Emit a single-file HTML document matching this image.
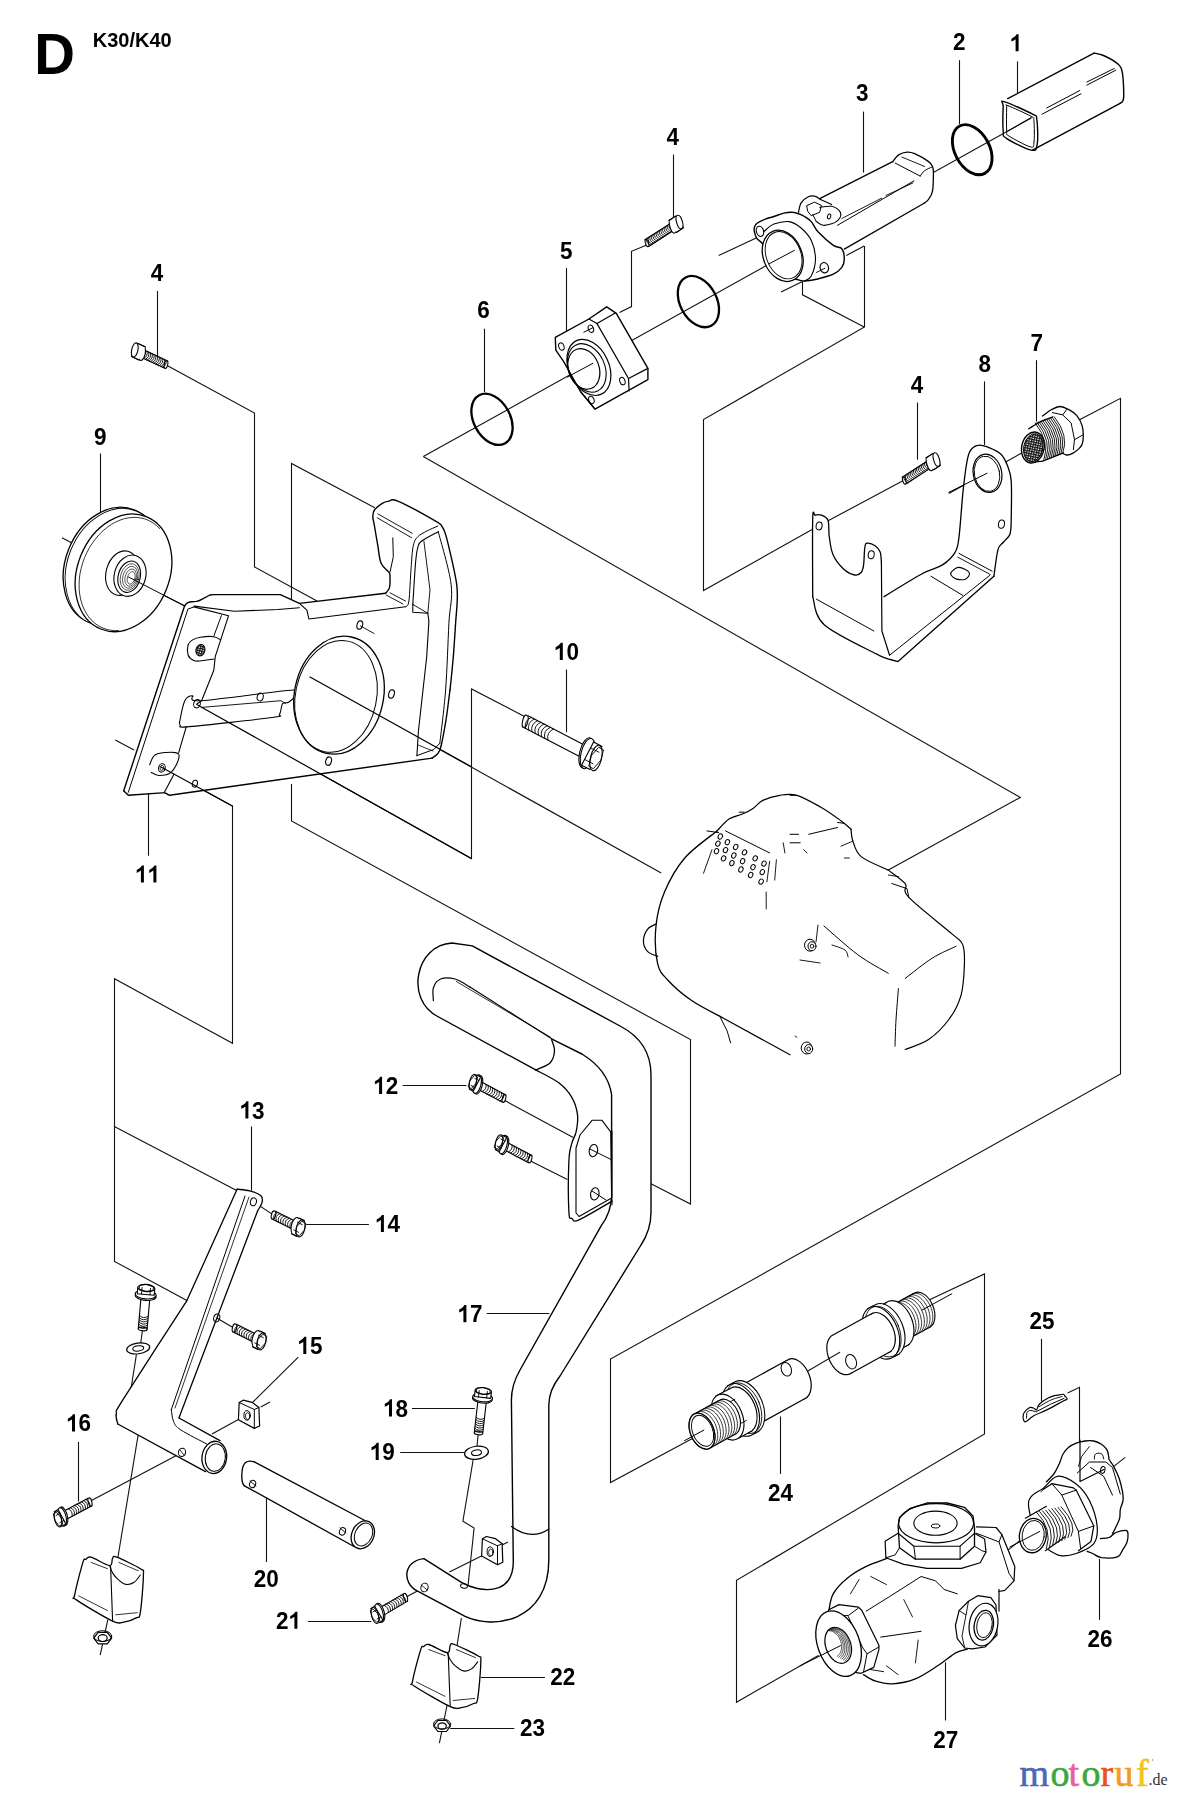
<!DOCTYPE html>
<html><head><meta charset="utf-8"><style>
html,body{margin:0;padding:0;background:#fff;}
body{width:1179px;height:1800px;overflow:hidden;font-family:"Liberation Sans",sans-serif;}
svg{display:block;}
</style></head><body>
<svg width="1179" height="1800" viewBox="0 0 1179 1800">
<defs><pattern id="mesh" width="2.4" height="2.4" patternUnits="userSpaceOnUse"><rect width="2.4" height="2.4" fill="#fff"/><path d="M0,0.6 H2.4 M0.6,0 V2.4" stroke="#111" stroke-width="1.1"/></pattern></defs>
<rect width="1179" height="1800" fill="#fff"/>
<g stroke="#111" fill="none" stroke-width="1">
<polyline points="157.5,291 157.5,357" stroke-width="1.1"/>
<polyline points="168,366 254.5,413 254.5,567 317,601" stroke-width="1.1"/>
<polyline points="100.5,453.5 100.5,516" stroke-width="1.1"/>
<polyline points="62,537.8 77.6,546" stroke-width="1.1"/>
<polyline points="128,577 184.8,606" stroke-width="1.1"/>
<polyline points="291.5,601 291.5,463.5 374.8,507.7" stroke-width="1.1"/>
<polyline points="423.3,456.6 1020.3,797.4 888.3,870.1" stroke-width="1.1"/>
<polyline points="864.5,246 864.5,327 703.5,419.5 703.5,590.5 819.7,525.3" stroke-width="1.1"/>
<polyline points="802.5,282 802.5,294.8 864.2,327" stroke-width="1.1"/>
<polyline points="846.3,255.5 864.2,246" stroke-width="1.1"/>
<polyline points="718.7,255.4 759.4,236.4" stroke-width="1.1"/>
<polyline points="781.1,292 802.9,281.2" stroke-width="1.1"/>
<polyline points="648,244.6 631.5,251.3 631.5,306.6 619.5,312.4" stroke-width="1.1"/>
<polyline points="1080,419.5 1120.5,398.3 1120.5,1073.9 610.5,1359.1 610.5,1482.6 694.3,1437.4" stroke-width="1.1"/>
<polyline points="929,1300 984.5,1273.9 984.5,1433.9 736.5,1580.3 736.5,1702.2 821.9,1653.4" stroke-width="1.1"/>
<polyline points="948.8,493.5 1025,451.2" stroke-width="1.1"/>
<polyline points="694.3,1437.4 929,1300" stroke-width="1.1"/>
<polyline points="1067.6,1393 1079.5,1387.3 1079.5,1481 1103.2,1469.2" stroke-width="1.1"/>
<polyline points="1003,1554 1125.2,1457.4" stroke-width="1.1"/>
<polyline points="161,767 232.5,806 232.5,1043.3 114.5,978.8 114.5,1261.4 186.9,1300.6" stroke-width="1.1"/>
<polyline points="114.3,1126.4 237.1,1190.8" stroke-width="1.1"/>
<polyline points="148.5,792.2 148.5,855.7" stroke-width="1.1"/>
<polyline points="115.3,740 134,750" stroke-width="1.1"/>
<polyline points="291.5,784 291.5,821 690.5,1039.6 690.5,1204 651,1183.8" stroke-width="1.1"/>
<polyline points="196.7,704.5 471.5,858.5 471.5,688.9 525.5,717" stroke-width="1.1"/>
<polyline points="310,677 661.2,873" stroke-width="1.1"/>
<polyline points="402.7,1085.5 466.5,1085.5" stroke-width="1.1"/>
<polyline points="504,1100.1 573.2,1137.6" stroke-width="1.1"/>
<polyline points="530,1160.7 567.4,1179.4" stroke-width="1.1"/>
<polyline points="251.5,1126.4 251.5,1190.8" stroke-width="1.1"/>
<polyline points="306.2,1224.5 368.9,1224.5" stroke-width="1.1"/>
<polyline points="253.4,1201.8 274.8,1215.9" stroke-width="1.1"/>
<polyline points="216.7,1317.9 235.6,1328.9" stroke-width="1.1"/>
<polyline points="298.3,1357.1 253,1402" stroke-width="1.1"/>
<polyline points="212,1434 243.4,1416.7" stroke-width="1.1"/>
<polyline points="260.7,1407 270,1402" stroke-width="1.1"/>
<polyline points="89.6,1501.5 181.6,1452.8" stroke-width="1.1"/>
<polyline points="78.5,1441.9 78.5,1501.5" stroke-width="1.1"/>
<polyline points="136.4,1354.7 130,1395" stroke-width="1.1"/>
<polyline points="138.2,1434.7 115.4,1572.5" stroke-width="1.1"/>
<polyline points="107.8,1619.6 100.2,1655.2" stroke-width="1.1"/>
<polyline points="266.5,1497.5 266.5,1562" stroke-width="1.1"/>
<polyline points="486.7,1313.5 549.4,1313.5" stroke-width="1.1"/>
<polyline points="412,1408.5 474.8,1408.5" stroke-width="1.1"/>
<polyline points="400.2,1452.5 464.6,1452.5" stroke-width="1.1"/>
<polyline points="478.2,1434 476.8,1448" stroke-width="1.1"/>
<polyline points="142.6,1329 140.6,1344" stroke-width="1.1"/>
<polyline points="473.1,1460.2 462.9,1521.2 474.1,1528 468,1585.7" stroke-width="1.1"/>
<polyline points="461.4,1618 454.3,1662.8" stroke-width="1.1"/>
<polyline points="447.2,1704.5 439.4,1743.2" stroke-width="1.1"/>
<polyline points="449.4,1572.1 490,1551.8" stroke-width="1.1"/>
<polyline points="502,1545 508,1542" stroke-width="1.1"/>
<polyline points="405.3,1597.6 423.9,1587.4" stroke-width="1.1"/>
<polyline points="307.9,1621.5 371.3,1621.5" stroke-width="1.1"/>
<polyline points="480.8,1677.5 544.9,1677.5" stroke-width="1.1"/>
<polyline points="450.2,1728.5 514.3,1728.5" stroke-width="1.1"/>
<polyline points="780.5,1416.5 780.5,1473.9" stroke-width="1.1"/>
<polyline points="1041.5,1338.9 1041.5,1401.5" stroke-width="1.1"/>
<polyline points="1099.5,1558.9 1099.5,1619.8" stroke-width="1.1"/>
<polyline points="945.5,1661.6 945.5,1720.5" stroke-width="1.1"/>
<polyline points="484.5,328.7 484.5,392" stroke-width="1.1"/>
<polyline points="566.5,268 566.5,331" stroke-width="1.1"/>
<polyline points="673.5,154.6 673.5,219" stroke-width="1.1"/>
<polyline points="863.5,111.6 863.5,172.6" stroke-width="1.1"/>
<polyline points="959.5,60.2 959.5,124.1" stroke-width="1.1"/>
<polyline points="1017.5,61.4 1017.5,93.4" stroke-width="1.1"/>
<polyline points="917.5,402.5 917.5,459.7" stroke-width="1.1"/>
<polyline points="984.5,381.4 984.5,444.9" stroke-width="1.1"/>
<polyline points="1036.5,360.2 1036.5,421.6" stroke-width="1.1"/>
<polyline points="566.5,669.5 566.5,732.3" stroke-width="1.1"/>
<polyline points="423.3,456.6 1031.3,117.9" stroke-width="1.1"/>
<polyline points="819.7,525.3 904.3,480" stroke-width="1.1"/>
</g>
<g stroke="#000" fill="none" stroke-linejoin="round" stroke-linecap="round">
<ellipse cx="111.5" cy="566" rx="46" ry="60.6" transform="rotate(22 111.5 566)" stroke-width="1.3" fill="#fff"/>
<ellipse cx="113.5" cy="567.2" rx="46" ry="60.6" transform="rotate(22 113.5 567.2)" stroke-width="0.9" fill="#fff"/>
<ellipse cx="123.5" cy="572.8" rx="46" ry="60.6" transform="rotate(22 123.5 572.8)" stroke-width="1.3" fill="#fff"/>
<polyline points="118.5,630.6 114.2,630.6 109.9,630.1 105.8,629.1 101.9,627.6 98.2,625.6 94.7,623.2 91.5,620.2 88.7,616.9 86.1,613.1 84,609 82.2,604.6 80.8,599.9 79.8,594.9 79.2,589.8 79.1,584.5 79.3,579.1 80,573.7 81.2,568.2 82.7,562.9 84.6,557.6 86.9,552.5 89.5,547.5 92.5,542.9 95.8,538.5 99.3,534.4 103.1,530.7 107.1,527.4 111.2,524.5 115.5,522.1 119.9,520.2 124.3,518.7 128.7,517.8 133.1,517.4 137.4,517.5 141.6,518.1 145.7,519.2 149.6,520.9 153.2,523 156.6,525.6 159.7,528.6" stroke-width="0.8"/>
<ellipse cx="122.1" cy="573.1" rx="16" ry="22.6" transform="rotate(15 122.1 573.1)" stroke-width="1.1" fill="#fff"/>
<ellipse cx="130" cy="575.7" rx="15.7" ry="21" transform="rotate(15 130 575.7)" stroke-width="1.1" fill="#fff"/>
<ellipse cx="129.2" cy="576.7" rx="11" ry="16" transform="rotate(15 129.2 576.7)" stroke-width="1.1" fill="#fff"/>
<ellipse cx="129.7" cy="577" rx="9.2" ry="13.6" transform="rotate(15 129.7 577)" stroke-width="0.6" fill="none"/>
<ellipse cx="130.2" cy="577.3" rx="7.4" ry="11.2" transform="rotate(15 130.2 577.3)" stroke-width="0.6" fill="none"/>
<ellipse cx="130.7" cy="577.6" rx="5.6" ry="8.8" transform="rotate(15 130.7 577.6)" stroke-width="0.6" fill="none"/>
<ellipse cx="131.2" cy="577.9" rx="3.8" ry="6.4" transform="rotate(15 131.2 577.9)" stroke-width="0.6" fill="none"/>
<line x1="128.5" y1="577" x2="184.8" y2="606" stroke-width="1"/>
<polygon points="123.7,790.8 184.2,607 190,602 201.7,599.3 213.2,594.6 280.4,594.6 299.4,603.4 385.6,593.3 389.4,587.8 390,576.7 388.9,572.2 381.1,563.3 377.8,545.6 374.4,525.6 372.8,516.7 374.4,510 382.2,503.3 388.9,501.1 397.8,501.1 435.6,521.1 442.2,526.7 445.6,534.4 451.1,556.7 456.7,584.4 457.2,601.1 455.6,623.3 453.3,656.7 450,690 441.3,745 438.2,753.2 432.1,758.1 169.5,795.3 165,792.9 161.9,792.9 128.3,795.3" stroke-width="0" fill="#fff"/>
<path d="M123.7,790.8 L184.2,607 Q186,602.5 190,602 L196.3,601.4 Q199,601 201.7,599.3 L209.9,595 Q211,594.6 213.2,594.6 L280.4,594.6 L299.4,603.4 L385.6,593.3" stroke-width="1.4" fill="none"/>
<path d="M385.6,593.3 C386.2,592.4 388.7,590.6 389.4,587.8 C390.1,585 390.1,579.3 390,576.7 C389.9,574.1 390.4,574.4 388.9,572.2 C387.4,570 383,567.7 381.1,563.3 C379.2,558.9 378.9,551.9 377.8,545.6 C376.7,539.3 375.2,530.4 374.4,525.6 C373.6,520.8 372.8,519.3 372.8,516.7 C372.8,514.1 372.8,512.2 374.4,510 C376,507.8 379.8,504.8 382.2,503.3 C384.6,501.8 386.3,501.5 388.9,501.1 C391.5,500.7 390,497.8 397.8,501.1 C405.6,504.4 428.2,516.8 435.6,521.1 C443,525.4 440.5,524.5 442.2,526.7 C443.9,528.9 444.1,529.4 445.6,534.4 C447.1,539.4 449.2,548.4 451.1,556.7 C453,565 455.7,577 456.7,584.4 C457.7,591.8 457.4,594.6 457.2,601.1 C457,607.6 456.2,614 455.6,623.3 C455,632.6 454.2,645.6 453.3,656.7 C452.4,667.8 450.6,684.5 450,690" stroke-width="1.4" fill="none"/>
<path d="M450,690 C449.3,695 447.5,710.8 446,720 C444.5,729.2 442.6,739.4 441.3,745 C440,750.5 439.8,751 438.2,753.2 C436.7,755.4 433.2,757.3 432.1,758.1" stroke-width="1.4" fill="none"/>
<polyline points="432.1,758.1 169.5,795.3 165,792.9 161.9,792.9 128.3,795.3 123.7,790.8" stroke-width="1.4"/>
<polyline points="128.3,792.3 187.9,609.1 194,606.9" stroke-width="1"/>
<polyline points="194,606.9 228.5,615.8 215.3,656.4 213.8,670.2 201.6,700.7 197,703.7" stroke-width="1.1"/>
<polyline points="186.3,726.6 178.7,752.6" stroke-width="1.1"/>
<polyline points="174.1,774 164.4,792.3" stroke-width="1.1"/>
<polyline points="194.2,606.1 234.3,611.3 277.7,609.5 299.4,607.8" stroke-width="1.1"/>
<polyline points="299.4,603.4 306.9,610.2 308.9,619 405.6,606.7" stroke-width="1.1"/>
<polyline points="221.4,615.6 213.9,636" stroke-width="1"/>
<polyline points="392.8,537.8 393.3,556.7 390,572.2" stroke-width="1"/>
<polyline points="377.8,513.9 412.2,533.3" stroke-width="0.9"/>
<polyline points="377.2,517.8 411.7,537.8" stroke-width="0.9"/>
<path d="M437.8,526.1 C435.9,526.9 430,529.3 426.7,531.1 C423.4,532.9 420,534.3 417.8,536.7 C415.6,539.1 414.4,540.4 413.3,545.6 C412.2,550.8 411.8,558.5 411.1,567.8 C410.4,577 409.8,594.6 408.9,601.1 C408,607.6 406.2,605.8 405.6,606.7" stroke-width="1" fill="none"/>
<path d="M438.3,531.7 C435.8,533.1 426.6,537.7 423.3,540 C420,542.3 419.6,541.9 418.3,545.6 C417,549.3 416.5,552.4 415.6,562.2 C414.7,572 413.3,597.4 412.8,604.4" stroke-width="1.1" fill="none"/>
<polyline points="412.8,604.4 412.8,612.2 427.8,613.3 428.9,621.1 426.7,656.7 418.4,731.2 416.9,755.6" stroke-width="1.1"/>
<path d="M438.3,531.7 C440.4,540.5 449.3,569.1 451.1,584.4 C452.9,599.7 449.8,605.7 448.9,623.3 C448,640.9 447.1,670 445.6,690 C444.1,710 440.8,734.5 439.8,743.4" stroke-width="1" fill="none"/>
<polyline points="439.8,743.4 433.7,749.5 416.9,755.6" stroke-width="1"/>
<polyline points="423.9,541.1 430,590 427.8,613.3" stroke-width="0.9"/>
<polyline points="412.8,604.4 427.8,613.3" stroke-width="0.9"/>
<polyline points="386.1,595 402.8,603.9" stroke-width="0.9"/>
<polyline points="390,592.8 405.6,601.1" stroke-width="0.9"/>
<polyline points="418,745 433,751" stroke-width="0.8"/>
<path d="M220.7,640.1 C219.6,639.5 217.3,637.2 213.9,636.7 C210.5,636.2 204,636.7 200.4,637.3 C196.8,637.9 194.2,638.8 192.2,640.1 C190.1,641.4 188.8,642.5 188.1,645 C187.4,647.5 187.2,652.4 188.1,655 C189,657.6 191.6,659.4 193.6,660.4 C195.6,661.4 196.6,661.2 200,661 C203.4,660.8 211.6,659.3 213.9,659" stroke-width="1.1" fill="none"/>
<ellipse cx="200.4" cy="650.2" rx="4.5" ry="5.8" transform="rotate(15 200.4 650.2)" stroke-width="1" fill="url(#mesh)"/>
<path d="M180.2,719 C181,714.9 182.8,704.6 184.8,700.7 C186.8,696.8 189.6,695.8 192.4,695.8 C195.2,695.8 184.8,701.7 201.6,700.7 C218.4,699.7 277.6,690.9 293.2,690 C308.8,689.1 295.8,693.2 295,695.2 C294.3,697.2 290.7,700.8 288.6,702.2 C286.5,703.6 284,701.7 282.5,703.7 C281,705.8 281.2,712.1 279.5,714.4 C277.7,716.7 286.8,715.4 271.8,717.5 C256.8,719.5 204.7,725.4 189.4,726.6 C174.1,727.9 181.8,726.4 180.2,725.1 C178.7,723.8 179.5,723.1 180.2,719Z" stroke-width="1.1" fill="none"/>
<polyline points="201.6,707.4 281,700.7 285.6,703.7" stroke-width="0.9"/>
<ellipse cx="197" cy="703.7" rx="3.3" ry="4.3" transform="rotate(15 197 703.7)" stroke-width="1" fill="none"/>
<ellipse cx="260.2" cy="697" rx="3" ry="4" transform="rotate(15 260.2 697)" stroke-width="1" fill="none"/>
<path d="M149.7,764.8 C150.7,763.1 151.5,756.5 155.8,754.4 C160.1,752.4 171.8,751.9 175.6,752.6 C179.5,753.3 179.5,755.4 178.7,758.7 C177.9,762 174.4,769.6 171.1,772.4 C167.8,775.2 162.2,775.5 158.9,775.5 C155.5,775.5 152.5,773 151.2,772.4" stroke-width="1.1" fill="none"/>
<ellipse cx="161.9" cy="767.9" rx="3.3" ry="4.3" transform="rotate(15 161.9 767.9)" stroke-width="1" fill="none"/>
<ellipse cx="161.9" cy="767.9" rx="1.8" ry="2.6" transform="rotate(15 161.9 767.9)" stroke-width="0.8" fill="none"/>
<ellipse cx="194.9" cy="783.7" rx="2.5" ry="3.5" transform="rotate(15 194.9 783.7)" stroke-width="1" fill="none"/>
<ellipse cx="339" cy="695.2" rx="44.5" ry="59.5" transform="rotate(12 339 695.2)" stroke-width="1.3" fill="#fff"/>
<ellipse cx="336" cy="696.4" rx="40.5" ry="56.5" transform="rotate(12 336 696.4)" stroke-width="1" fill="none"/>
<ellipse cx="359.8" cy="625" rx="2.8" ry="4.3" transform="rotate(15 359.8 625)" stroke-width="1.1" fill="none"/>
<ellipse cx="391.5" cy="694" rx="2.8" ry="4.3" transform="rotate(15 391.5 694)" stroke-width="1.1" fill="none"/>
<ellipse cx="328.6" cy="761.1" rx="2.8" ry="4.3" transform="rotate(15 328.6 761.1)" stroke-width="1.1" fill="none"/>
<polyline points="360.4,625.9 374.1,633.5" stroke-width="0.9"/>
<polyline points="310,677 470,766" stroke-width="1.2"/>
<polyline points="196.7,704.5 471.2,858.5" stroke-width="1.2"/>
<polyline points="161,767 232.3,806" stroke-width="1.2"/>
<ellipse cx="492" cy="419.3" rx="18.3" ry="27.3" transform="rotate(-28 492 419.3)" stroke-width="2.3" fill="none"/>
<polygon points="555.3,337.3 588.9,319 606.7,306.8 616.3,313.4 647.9,368.4 647.9,379.6 595,409.1 580.7,391.8 563.4,361.2 555.8,350.1" stroke-width="1.4" fill="#fff"/>
<polyline points="588.9,319 597,323.6 628.5,378.5 629.1,390.8" stroke-width="1.2"/>
<polyline points="597,323.6 615.3,312.9" stroke-width="1.2"/>
<polyline points="628.5,378.5 647.9,368.4" stroke-width="1.2"/>
<polyline points="580.7,391.8 595,409.1" stroke-width="1.2"/>
<ellipse cx="588.9" cy="367.4" rx="20" ry="29.5" transform="rotate(-25 588.9 367.4)" stroke-width="1.2" fill="none"/>
<ellipse cx="586.8" cy="367.9" rx="17.8" ry="25.4" transform="rotate(-25 586.8 367.9)" stroke-width="1.1" fill="none"/>
<ellipse cx="583.8" cy="368.9" rx="15.3" ry="20.9" transform="rotate(-20 583.8 368.9)" stroke-width="1.2" fill="none"/>
<ellipse cx="561.4" cy="346.5" rx="2.6" ry="3.8" transform="rotate(-20 561.4 346.5)" stroke-width="1" fill="none"/>
<ellipse cx="590.9" cy="328.7" rx="2.6" ry="3.8" transform="rotate(-20 590.9 328.7)" stroke-width="1" fill="none"/>
<ellipse cx="591.4" cy="399.9" rx="2.6" ry="3.8" transform="rotate(-20 591.4 399.9)" stroke-width="1" fill="none"/>
<ellipse cx="622.4" cy="381.1" rx="2.6" ry="3.8" transform="rotate(-20 622.4 381.1)" stroke-width="1" fill="none"/>
<polyline points="567.5,377 592.9,363.3" stroke-width="1"/>
<polyline points="583.8,332.2 592.9,327.7" stroke-width="1"/>
<ellipse cx="698.4" cy="301.6" rx="18.3" ry="27.3" transform="rotate(-28 698.4 301.6)" stroke-width="2.3" fill="none"/>
<polygon points="819.7,198.7 892.7,161.4 898.6,154.6 907.1,152.1 914.7,153.7 928.3,161.4 932.5,166.5 933.4,172.4 932.5,191.1 928.3,199.6 924.1,202.9 844.3,248.7 816.3,248.7 804.5,218.2" stroke-width="0" fill="#fff"/>
<polyline points="819.7,198.7 892.7,161.7" stroke-width="1.3"/>
<path d="M892.7,161.7 C893.7,160.6 896.2,156.5 898.6,154.9 C901,153.4 904.4,152.4 907.1,152.2 C909.8,152 911.2,152.2 914.7,153.7 C918.3,155.3 925.3,159.3 928.3,161.4 C931.3,163.5 931.7,164.6 932.5,166.5 C933.4,168.3 933.4,168.3 933.4,172.4 C933.4,176.5 933.4,186.5 932.5,191.1 C931.7,195.6 929.7,197.5 928.3,199.6 C926.9,201.6 924.8,202.7 924.1,203.3" stroke-width="1.3" fill="none"/>
<polyline points="924.1,203.3 844.3,249.1" stroke-width="1.3"/>
<polyline points="895.2,163.1 920.2,176.1" stroke-width="1"/>
<polyline points="902,157.1 924.6,166.5" stroke-width="0.9"/>
<path d="M920.2,176.1 C920.9,175.2 922.6,172.2 924.6,170.7 C926.5,169.2 930.8,167.6 932,167" stroke-width="1" fill="none"/>
<polyline points="837.5,225.3 913.9,180.9" stroke-width="1"/>
<polyline points="841.8,218.5 881.6,198.2" stroke-width="0.9"/>
<polyline points="885.9,195.5 913,182.9" stroke-width="0.9"/>
<polygon points="798.5,212.3 801.1,202.9 807.9,197 814.6,196.2 820.6,199.6 825.7,201.2 831.6,204.6 838.4,208 840.9,214 838.4,219.9 832.5,223.3 823.1,225 816.3,221.6" stroke-width="0" fill="#fff"/>
<path d="M798.5,212.3 C798.9,210.7 799.5,205.5 801.1,202.9 C802.6,200.4 805.6,198.1 807.9,197 C810.1,195.9 812.5,195.7 814.6,196.2 C816.8,196.6 819.6,199 820.6,199.6" stroke-width="1.2" fill="none"/>
<polyline points="820.6,199.6 831.6,204.6" stroke-width="1.1"/>
<path d="M819.7,207.2 C821.7,207 828.5,205.9 831.6,206.3 C834.7,206.8 836.8,208.3 838.4,209.7 C839.9,211.1 840.9,213.1 840.9,214.8 C840.9,216.5 839.8,218.4 838.4,219.9 C837,221.4 835,222.7 832.5,223.6 C829.9,224.5 825.8,225.7 823.1,225.3 C820.4,225 817.5,222.2 816.3,221.6" stroke-width="1.1" fill="none"/>
<polygon points="807,205.5 814.6,202.1 821.4,205.5 819.7,212.3 811.2,215.7 807.9,211.4" stroke-width="1" fill="none"/>
<polyline points="812.9,214.8 816.3,221.6" stroke-width="1"/>
<ellipse cx="829.1" cy="216.5" rx="1.6" ry="2.5" transform="rotate(15 829.1 216.5)" stroke-width="1" fill="none"/>
<path d="M754.4,227.5 C754.8,226.1 755.1,224.7 757,223.3 C758.8,221.9 762.6,220.2 765.4,219.1 C768.3,217.9 770.8,217.5 773.9,216.5 C777,215.5 781,213.8 784.1,213.1 C787.2,212.4 790,212.1 792.6,212.3 C795.1,212.4 797.4,213.3 799.4,214 C801.4,214.7 802.5,215.2 804.5,216.5 C806.4,217.8 809,219.1 811.2,221.6 C813.5,224.1 814.4,227.8 818,231.8 C821.7,235.7 829.3,242.5 833.3,245.4 C837.3,248.2 839.9,246.5 841.8,248.7 C843.6,251 844.3,255.8 844.3,258.9 C844.3,262 843.6,264.9 841.8,267.4 C839.9,269.9 837.5,272.2 833.3,274.2 C829.1,276.2 821.1,278.1 816.3,279.3 C811.5,280.4 807.9,281 804.5,281 C801.1,281 799.1,279.8 796,279.3 C792.9,278.7 789.8,279.8 785.8,277.6 C781.8,275.3 775.9,271.1 772.2,265.7 C768.6,260.3 766.3,249.9 763.7,245.4 C761.2,240.8 758.5,240.8 757,238.6 C755.4,236.3 754.8,233.6 754.4,231.8 C754,229.9 754,229 754.4,227.5Z" stroke-width="1.4" fill="#fff"/>
<path d="M763.7,231.8 C765.4,230.5 769.7,225.8 773.9,224.1 C778.2,222.5 784.7,221 789.2,221.6 C793.7,222.3 797.4,224.9 801.1,228 C804.7,231.2 808.8,235.1 811.2,240.3 C813.6,245.4 815.5,253 815.5,258.9 C815.5,264.9 813.1,272.2 811.2,275.9 C809.4,279.6 805.6,280.1 804.5,281" stroke-width="1.1" fill="none"/>
<ellipse cx="782.7" cy="255.9" rx="19.3" ry="26.5" transform="rotate(-22 782.7 255.9)" stroke-width="1.3" fill="#fff"/>
<ellipse cx="783.6" cy="255.2" rx="17.2" ry="24.5" transform="rotate(-22 783.6 255.2)" stroke-width="0.9" fill="none"/>
<ellipse cx="760" cy="231.3" rx="3.6" ry="5.2" transform="rotate(-15 760 231.3)" stroke-width="1.1" fill="none"/>
<ellipse cx="824.3" cy="267.7" rx="4.2" ry="5.2" transform="rotate(-15 824.3 267.7)" stroke-width="1.1" fill="none"/>
<polyline points="768.8,264 794.3,250.4" stroke-width="1"/>
<polyline points="816.3,272.5 824.8,268.3" stroke-width="0.9"/>
<ellipse cx="972.2" cy="149.7" rx="17.4" ry="26.8" transform="rotate(-28 972.2 149.7)" stroke-width="2.9" fill="none"/>
<polygon points="1007.7,98.1 1094,53.1 1103.5,55.5 1117.7,63.8 1122.4,72.1 1123.6,98.1 1120.1,102.8 1032.5,150.1 1037.2,145.4 1037.2,119.4 1032.5,113.5 1004.1,100.5" stroke-width="0" fill="#fff"/>
<path d="M1004.1,101.6 C1009,102.9 1027.1,111.2 1032.5,114.2 C1038,117.1 1036,114.4 1036.8,119.4 C1037.6,124.4 1038.2,139.1 1037.2,144.2 C1036.3,149.4 1036.5,151.1 1031.3,150.1 C1026.2,149.2 1011.2,141.5 1006.5,138.3 C1001.8,135.2 1003.7,136.5 1003.2,131.2 C1002.6,125.9 1003,111.3 1003.2,106.4 C1003.3,101.4 999.2,100.3 1004.1,101.6Z" stroke-width="1.4" fill="none"/>
<path d="M1007.9,105.7 C1011.9,107 1026.5,113.8 1030.9,116.3 C1035.2,118.8 1033.4,116.3 1033.9,120.8 C1034.4,125.3 1034.6,138.7 1033.9,143 C1033.3,147.4 1034.3,148 1030.1,146.8 C1026,145.7 1012.8,138.6 1008.8,135.9 C1004.9,133.3 1007.1,135.9 1006.7,131.2 C1006.4,126.6 1006.5,112.3 1006.7,108 C1006.9,103.8 1003.9,104.3 1007.9,105.7Z" stroke-width="1" fill="none"/>
<polyline points="1007.7,98.6 1094,53.1" stroke-width="1.4"/>
<path d="M1094,53.1 C1095.6,53.5 1099.6,53.7 1103.5,55.5 C1107.4,57.3 1114.5,60.8 1117.7,63.8 C1120.9,66.7 1121.4,67.5 1122.4,73.2 C1123.4,79 1124,93.1 1123.6,98.1 C1123.2,103.1 1120.7,102.4 1120.1,103.3" stroke-width="1.4" fill="none"/>
<polyline points="1032.5,150.1 1120.1,103.3" stroke-width="1.4"/>
<polyline points="1042,114.2 1081,93.8" stroke-width="1"/>
<polyline points="1046.7,108 1079.8,90.5" stroke-width="1"/>
<polyline points="1086.9,85.1 1115.8,70.2" stroke-width="1"/>
<polyline points="1086.9,82 1114.2,68.5" stroke-width="1"/>
<polyline points="1007.7,131.2 1031.3,117.5" stroke-width="1"/>
<polygon points="812.7,519.1 815.3,515.2 821.6,515.2 828,520.3 829.3,536.9 833.1,554.7 843.3,568.7 854.7,575 861.1,572.5 863.6,564.9 864.9,547 867.4,543.2 875.1,545.8 880.2,552.1 881.9,597.9 884,596.7 922.1,573.8 942.5,564.9 955.2,552.1 959,536.9 962.8,493.6 966.7,463.1 970.5,450.4 978.1,445.3 989.6,447.8 1001,454.2 1007.4,465.6 1011.2,480.9 1011.2,519.1 1009.9,534.3 1003.6,542 997.2,549.6 993.4,576.3 896.7,661.6 889.1,660.3 824.2,624.7 812.7,596.7" stroke-width="0" fill="#fff"/>
<path d="M812.7,596.7 C812.7,583.7 812.3,532.6 812.7,519.1 C813.1,505.5 813.8,515.9 815.3,515.2 C816.8,514.6 819.5,514.4 821.6,515.2 C823.7,516.1 826.7,516.7 828,520.3 C829.3,523.9 828.4,531.1 829.3,536.9 C830.1,542.6 830.7,549.4 833.1,554.7 C835.4,560 839.7,565.3 843.3,568.7 C846.9,572.1 851.7,574.4 854.7,575 C857.7,575.7 859.6,574.2 861.1,572.5 C862.6,570.8 863,569.1 863.6,564.9 C864.2,560.6 864.2,550.7 864.9,547 C865.5,543.4 865.7,543.4 867.4,543.2 C869.1,543 872.9,544.3 875.1,545.8 C877.2,547.3 879.1,549.4 880.2,552.1 C881.2,554.9 881.2,560.6 881.4,562.3" stroke-width="1.3" fill="none"/>
<polyline points="881.4,562.3 881.9,631 889.6,655.2" stroke-width="1.2"/>
<path d="M884,596.7 C890.3,592.8 912.4,579.1 922.1,573.8 C931.9,568.5 937,568.5 942.5,564.9 C948,561.3 952.5,556.8 955.2,552.1 C958,547.5 957.8,546.6 959,536.9 C960.3,527.1 961.6,505.9 962.8,493.6 C964.1,481.3 965.4,470.3 966.7,463.1 C967.9,455.9 968.6,453.3 970.5,450.4 C972.4,447.4 974.9,445.7 978.1,445.3 C981.3,444.8 985.8,446.3 989.6,447.8 C993.4,449.3 998,451.2 1001,454.2 C1004,457.1 1005.7,461.2 1007.4,465.6 C1009.1,470.1 1010.6,472 1011.2,480.9 C1011.8,489.8 1011.4,510.2 1011.2,519.1 C1011,528 1011.2,530.5 1009.9,534.3 C1008.7,538.1 1005.6,539.4 1003.6,542 C1001.6,544.5 999.6,543.9 998,549.6 C996.4,555.3 994.6,571.9 993.9,576.3" stroke-width="1.3" fill="none"/>
<polyline points="993.9,576.3 898,661.6 890.3,659.5" stroke-width="1.3"/>
<path d="M890.3,659.5 C888,658.6 887.4,659.7 876.3,653.9 C865.3,648.1 834.8,634.2 824.2,624.7 C813.6,615.1 814.6,601.3 812.7,596.7" stroke-width="1.3" fill="none"/>
<polyline points="816.5,599.2 873.8,631" stroke-width="1"/>
<polyline points="931,576.3 962.8,595.4" stroke-width="1"/>
<polyline points="959,553.4 992.1,571.2" stroke-width="1"/>
<polyline points="957.8,557.2 990.3,574.5" stroke-width="0.9"/>
<polyline points="889.6,655.2 989.6,575.5" stroke-width="1"/>
<ellipse cx="987.5" cy="473.3" rx="14.2" ry="19.3" transform="rotate(-12 987.5 473.3)" stroke-width="1.2" fill="#fff"/>
<ellipse cx="987" cy="473.8" rx="12.6" ry="17.8" transform="rotate(-12 987 473.8)" stroke-width="0.9" fill="none"/>
<ellipse cx="819.1" cy="525.9" rx="3" ry="4" transform="rotate(10 819.1 525.9)" stroke-width="1" fill="none"/>
<ellipse cx="871.2" cy="554.7" rx="3" ry="4" transform="rotate(10 871.2 554.7)" stroke-width="1" fill="none"/>
<ellipse cx="1001.5" cy="524.1" rx="3" ry="4.2" transform="rotate(10 1001.5 524.1)" stroke-width="1" fill="none"/>
<path d="M951.4,572 C952.7,570.6 956.1,567.3 959,567.4 C962,567.5 968.1,570.6 969.2,572.5 C970.4,574.4 968,577.8 965.9,578.9 C963.8,580 958.9,579.7 956.5,579.1 C954.1,578.6 952.2,576.7 951.4,575.5 C950.6,574.4 950.1,573.3 951.4,572Z" stroke-width="1.1" fill="none"/>
<polyline points="948.9,492.3 987,473.3" stroke-width="1"/>
<polygon points="1042.4,416 1051.6,409.5 1059.6,406.5 1068,409.2 1076.8,415.6 1082.1,425.6 1083.3,435.9 1082.1,444.3 1078.7,448.9 1072.6,453.4 1066.5,455 1061.9,452.7" stroke-width="0" fill="#fff"/>
<path d="M1042.4,416 C1044,414.9 1048.7,411.1 1051.6,409.5 C1054.5,408 1056.9,406.6 1059.6,406.5 C1062.4,406.4 1065.2,407.6 1068,409.2 C1070.9,410.7 1074.4,412.9 1076.8,415.6 C1079.1,418.4 1081.1,422.2 1082.1,425.6 C1083.2,428.9 1083.3,432.8 1083.3,435.9 C1083.3,439 1082.9,442.1 1082.1,444.3 C1081.4,446.4 1080.3,447.3 1078.7,448.9 C1077.1,450.4 1074.6,452.4 1072.6,453.4 C1070.6,454.5 1068.3,455.1 1066.5,455 C1064.7,454.8 1062.7,453.1 1061.9,452.7" stroke-width="1.3" fill="none"/>
<polyline points="1052.4,412.6 1062.7,414.9 1066.9,409.2" stroke-width="1"/>
<polyline points="1062.7,414.9 1071.1,422.9 1074.5,439.7 1082.5,435.1" stroke-width="1"/>
<polyline points="1074.5,439.7 1073.4,449.6" stroke-width="1"/>
<polygon points="1024.5,430.2 1032.9,425.2 1042.8,420.6 1052.7,417.2 1063.4,452.7 1055.8,455.7 1044.4,460.3 1035.2,461.8" stroke-width="0" fill="#fff"/>
<path d="M1028.7,428.9 C1029.4,428.4 1030.5,427.5 1032.9,426.1 C1035.3,424.7 1039.5,422.1 1042.8,420.6 C1046.1,419.1 1051.1,417.6 1052.7,416.9" stroke-width="1.3" fill="none"/>
<path d="M1035.2,462 C1036.7,461.7 1040.9,461.5 1044.4,460.5 C1047.8,459.4 1052.6,457.2 1055.8,455.9 C1059,454.6 1062.2,453.3 1063.4,452.8" stroke-width="1.3" fill="none"/>
<path d="M1035.2,422.9 Q1050.5,442.6 1043.6,460.7" stroke-width="0.9"/>
<path d="M1037.1,422.3 Q1052.4,441.9 1045.5,460" stroke-width="0.9"/>
<path d="M1039,421.7 Q1054.3,441.2 1047.4,459.2" stroke-width="0.9"/>
<path d="M1040.9,421.1 Q1056.2,440.6 1049.3,458.5" stroke-width="0.9"/>
<path d="M1042.8,420.5 Q1058.1,439.9 1051.2,457.8" stroke-width="0.9"/>
<path d="M1044.7,419.8 Q1060,439.2 1053.1,457.1" stroke-width="0.9"/>
<path d="M1046.6,419.2 Q1061.9,438.5 1055,456.3" stroke-width="0.9"/>
<path d="M1048.5,418.6 Q1063.8,437.9 1056.9,455.6" stroke-width="0.9"/>
<path d="M1050.5,418 Q1065.7,437.2 1058.9,454.9" stroke-width="0.9"/>
<path d="M1052.4,417.4 Q1067.6,436.5 1060.8,454.2" stroke-width="0.9"/>
<path d="M1054.3,416.8 Q1069.5,435.9 1062.7,453.4" stroke-width="0.9"/>
<ellipse cx="1032.9" cy="447.5" rx="11.2" ry="15.6" transform="rotate(12 1032.9 447.5)" stroke-width="1.4" fill="#fff"/>
<ellipse cx="1033.3" cy="447.7" rx="9.6" ry="14.2" transform="rotate(12 1033.3 447.7)" stroke-width="0.9" fill="url(#mesh)"/>
<polygon points="717,831 729,819 742.5,814 752.7,808.8 762.8,800.4 779.8,795.3 796.8,795.3 820.5,807 840.9,820.7 851,829.2 852.8,841 861.2,856.6 888.3,870.1 905.2,883.7 908.6,897.2 952.6,934.4 962.7,944.6 964.4,964.9 961,995.3 949.2,1019 928.9,1039.3 905.2,1049.5 895,1046 790,1054.8 790,1054.8 722.1,1017.5 691.6,1000.5 667.9,980.2 657.5,963.2 656,925.9 664.5,892 684.8,858 717,831" stroke-width="0" fill="#fff"/>
<path d="M717,831 C719,829 724.8,821.8 729,819 C733.2,816.2 738.5,815.7 742.5,814 C746.5,812.3 749.3,811.1 752.7,808.8 C756.1,806.5 758.3,802.6 762.8,800.4 C767.3,798.1 774.1,796.1 779.8,795.3 C785.5,794.4 790,793.3 796.8,795.3 C803.6,797.2 813.1,802.8 820.5,807 C827.9,811.2 835.8,817 840.9,820.7 C846,824.4 849.3,827.8 851,829.2" stroke-width="1.2" fill="none"/>
<path d="M851,829.2 C851.3,831.2 851.1,836.4 852.8,841 C854.5,845.6 855.3,851.8 861.2,856.6 C867.1,861.5 883.8,867.9 888.3,870.1" stroke-width="1.2" fill="none"/>
<path d="M888.3,870.1 C891.1,872.4 901.8,879.2 905.2,883.7 C908.6,888.2 900.7,888.8 908.6,897.2 C916.5,905.7 943.6,926.5 952.6,934.4 C961.6,942.3 960.7,939.5 962.7,944.6 C964.7,949.7 964.7,956.5 964.4,964.9 C964.1,973.3 963.5,986.3 961,995.3 C958.5,1004.3 954.6,1011.7 949.2,1019 C943.9,1026.3 936.2,1034.2 928.9,1039.3 C921.6,1044.4 909.2,1047.8 905.2,1049.5" stroke-width="1.2" fill="none"/>
<path d="M717,831 C711.6,835.5 693.5,847.8 684.8,858 C676,868.2 669.3,880.7 664.5,892 C659.7,903.3 657.2,914 656,925.9 C654.8,937.8 655.5,954.2 657.5,963.2 C659.5,972.2 662.2,974 667.9,980.2 C673.6,986.4 682.6,994.3 691.6,1000.5 C700.6,1006.7 717,1014.7 722.1,1017.5" stroke-width="1.3" fill="none"/>
<line x1="722.1" y1="1017.5" x2="790" y2="1054.8" stroke-width="1.2"/>
<path d="M656,924 C654.6,924.9 649.6,926.5 647.5,929.3 C645.4,932.1 643.4,937.3 643.4,941 C643.4,944.7 645.1,948.7 647.5,951.3 C649.9,953.9 656,955.5 657.7,956.4" stroke-width="1.2" fill="none"/>
<path d="M824,926 C829.6,930.8 847.1,946.8 857.8,954.7 C868.5,962.6 883.2,970.2 888.3,973.3" stroke-width="1" fill="none"/>
<path d="M905.2,978.4 C909.7,975 923.8,963.5 932.3,958.1 C940.8,952.8 952,948.3 956,946.3" stroke-width="1" fill="none"/>
<path d="M898.4,988.6 C898,993.8 896.6,1010.4 896,1020 C895.4,1029.6 895.2,1041.8 895,1046.1" stroke-width="1" fill="none"/>
<path d="M832,945 C834.2,945.8 842.3,948 845,950 C847.7,952 847.5,955.8 848,957" stroke-width="0.9" fill="none"/>
<line x1="818" y1="925" x2="816" y2="942" stroke-width="0.9"/>
<line x1="800" y1="960" x2="820" y2="963" stroke-width="0.9"/>
<ellipse cx="810" cy="945.2" rx="5.5" ry="6" transform="rotate(0 810 945.2)" stroke-width="1" fill="#fff"/>
<ellipse cx="812" cy="946.2" rx="4" ry="4.5" transform="rotate(0 812 946.2)" stroke-width="1" fill="#fff"/>
<ellipse cx="812" cy="946.2" rx="1.8" ry="2" transform="rotate(0 812 946.2)" stroke-width="0.9" fill="none"/>
<ellipse cx="806.7" cy="1048" rx="5.5" ry="6" transform="rotate(0 806.7 1048)" stroke-width="1" fill="#fff"/>
<ellipse cx="808.7" cy="1049" rx="4" ry="4.5" transform="rotate(0 808.7 1049)" stroke-width="1" fill="#fff"/>
<ellipse cx="808.7" cy="1049" rx="1.8" ry="2" transform="rotate(0 808.7 1049)" stroke-width="0.9" fill="none"/>
<ellipse cx="720.3" cy="836.5" rx="2.1" ry="2.7" transform="rotate(25 720.3 836.5)" stroke-width="1" fill="none"/>
<ellipse cx="727.4" cy="842.2" rx="2.1" ry="2.7" transform="rotate(25 727.4 842.2)" stroke-width="1" fill="none"/>
<ellipse cx="735.7" cy="847" rx="2.1" ry="2.7" transform="rotate(25 735.7 847)" stroke-width="1" fill="none"/>
<ellipse cx="744.5" cy="852.4" rx="2.1" ry="2.7" transform="rotate(25 744.5 852.4)" stroke-width="1" fill="none"/>
<ellipse cx="755.2" cy="858.4" rx="2.1" ry="2.7" transform="rotate(25 755.2 858.4)" stroke-width="1" fill="none"/>
<ellipse cx="764" cy="863.6" rx="2.1" ry="2.7" transform="rotate(25 764 863.6)" stroke-width="1" fill="none"/>
<ellipse cx="717.9" cy="843.6" rx="2.1" ry="2.7" transform="rotate(25 717.9 843.6)" stroke-width="1" fill="none"/>
<ellipse cx="725.5" cy="850.1" rx="2.1" ry="2.7" transform="rotate(25 725.5 850.1)" stroke-width="1" fill="none"/>
<ellipse cx="733.8" cy="855.5" rx="2.1" ry="2.7" transform="rotate(25 733.8 855.5)" stroke-width="1" fill="none"/>
<ellipse cx="742.6" cy="861.2" rx="2.1" ry="2.7" transform="rotate(25 742.6 861.2)" stroke-width="1" fill="none"/>
<ellipse cx="753" cy="867.2" rx="2.1" ry="2.7" transform="rotate(25 753 867.2)" stroke-width="1" fill="none"/>
<ellipse cx="762.3" cy="872.1" rx="2.1" ry="2.7" transform="rotate(25 762.3 872.1)" stroke-width="1" fill="none"/>
<ellipse cx="716.5" cy="851.2" rx="2.1" ry="2.7" transform="rotate(25 716.5 851.2)" stroke-width="1" fill="none"/>
<ellipse cx="723.6" cy="858.4" rx="2.1" ry="2.7" transform="rotate(25 723.6 858.4)" stroke-width="1" fill="none"/>
<ellipse cx="731.9" cy="863.1" rx="2.1" ry="2.7" transform="rotate(25 731.9 863.1)" stroke-width="1" fill="none"/>
<ellipse cx="740.9" cy="869.5" rx="2.1" ry="2.7" transform="rotate(25 740.9 869.5)" stroke-width="1" fill="none"/>
<ellipse cx="750.7" cy="875" rx="2.1" ry="2.7" transform="rotate(25 750.7 875)" stroke-width="1" fill="none"/>
<ellipse cx="761.1" cy="881.6" rx="2.1" ry="2.7" transform="rotate(25 761.1 881.6)" stroke-width="1" fill="none"/>
<polyline points="725.5,830.9 769.6,852.9" stroke-width="1"/>
<polyline points="769.6,861.4 766.9,881.8" stroke-width="0.9"/>
<polyline points="776.4,859.7 774.7,880.1" stroke-width="0.9"/>
<polyline points="712,849.6 703.5,873.3" stroke-width="0.9"/>
<polyline points="766.2,892 766.2,908.9" stroke-width="0.9"/>
<polyline points="790,834.3 798.5,834.3" stroke-width="1"/>
<polyline points="790,842.8 800.2,842.8" stroke-width="1"/>
<polyline points="783.2,842.8 784.9,852.9" stroke-width="0.9"/>
<polyline points="808.7,834.3 837.5,827.5" stroke-width="1"/>
<polyline points="803.6,849.6 807,852.9" stroke-width="0.9"/>
<polyline points="706.9,830.9 718.7,832.6" stroke-width="1"/>
<polyline points="739.1,812.2 744.2,812.2" stroke-width="1"/>
<polyline points="837.5,822.4 844.3,823.4" stroke-width="1"/>
<polyline points="790,795.3 796.8,795.3" stroke-width="1"/>
<polyline points="840.9,846.2 852.8,841.1" stroke-width="0.9"/>
<polyline points="844.3,858 849.4,858" stroke-width="0.9"/>
<polyline points="891.8,883.5 907,888.6 908.7,897" stroke-width="1"/>
<polyline points="888.4,875 898.6,876.7" stroke-width="0.9"/>
<polyline points="720.4,1017.5 727.2,1031.1 730.6,1042.9" stroke-width="1"/>
<polyline points="795.1,1036.1 796.8,1037.2" stroke-width="0.9"/>
<path d="M437.7,1016.5 C405,1000 415,945 452,943 L472.3,945.9 L620,1026 Q651,1042 651,1075 L651,1212 Q651,1230 641,1245 L560,1376 Q549,1390 548.8,1405 L548.8,1560 C548.8,1622 493,1630 464.6,1616.2 L417.1,1590.8 C402,1583 403,1561 423.9,1558.6 L461.4,1582.4 C480,1593 513,1596 513.3,1562 L511.4,1400 Q511.4,1385 520,1370 L601,1226.1 Q611.6,1212 611.6,1195 L611.6,1094.7 Q608,1070 581.9,1054 L553,1039.6 L554.5,1051 L550,1063 L535.7,1069.9 Z" stroke-width="0" fill="#fff"/>
<path d="M437.7,1016.5 C405,1000 415,945 452,943 L472.3,945.9 L620,1026 Q651,1042 651,1075 L651,1212 Q651,1230 641,1245 L560,1376 Q549,1390 548.8,1405 L548.8,1560 C548.8,1622 493,1630 464.6,1616.2 L417.1,1590.8 C402,1583 403,1561 423.9,1558.6 L461.4,1582.4 C480,1593 513,1596 513.3,1562 L511.4,1400 Q511.4,1385 520,1370 L601,1226.1 Q611.6,1212 611.6,1195 L611.6,1094.7 Q608,1070 581.9,1054 L553,1039.6" stroke-width="1.4" fill="none"/>
<path d="M433.4,1000.7 C433.4,998.5 432.2,991.3 433.4,987.7 C434.6,984.1 437,980.5 440.6,979 C444.2,977.5 450.1,977.7 455,979 C459.9,980.3 467.5,985.7 470,987" stroke-width="1.2" fill="none"/>
<polyline points="470,987 553,1039.6" stroke-width="1.2"/>
<polyline points="456.4,981.5 550.1,1037" stroke-width="0.8"/>
<polyline points="437.7,1016.5 535.7,1069.9" stroke-width="1.3"/>
<path d="M551.6,1039.6 C552.1,1041.5 554.8,1047.1 554.5,1051 C554.2,1054.9 553.1,1059.8 550,1063 C546.9,1066.2 538.1,1068.8 535.7,1069.9" stroke-width="1.3" fill="none"/>
<path d="M535.7,1069.9 C539.6,1072.1 552.8,1078.2 558.8,1082.8 C564.8,1087.4 568.7,1092 571.8,1097.3 C574.9,1102.6 576.8,1108.8 577.5,1114.6 C578.2,1120.4 577.1,1127.1 576.1,1131.9 C575.1,1136.7 573,1138.6 571.8,1143.4 C570.6,1148.2 569.4,1149.3 568.9,1160.7 C568.4,1172.1 568.4,1202.4 568.9,1212 C569.4,1221.6 570.3,1217.2 572,1218.5 C573.7,1219.8 572.3,1222.8 579,1219.9 C585.7,1217 606.7,1204.2 612.2,1201.1" stroke-width="1.3" fill="none"/>
<polygon points="592,1120.3 602,1120.3 610.7,1131.9 611.6,1198 579,1216.5 576,1213 576,1148 580,1135" stroke-width="1.1" fill="#fff"/>
<ellipse cx="593.4" cy="1150.6" rx="4.2" ry="6.2" transform="rotate(10 593.4 1150.6)" stroke-width="1.1" fill="none"/>
<ellipse cx="594.8" cy="1193.9" rx="4.2" ry="6.2" transform="rotate(10 594.8 1193.9)" stroke-width="1.1" fill="none"/>
<line x1="590" y1="1149" x2="612" y2="1160" stroke-width="1"/>
<line x1="592" y1="1191" x2="606" y2="1200" stroke-width="1"/>
<path d="M511.5,1526.5 Q531,1541 549,1529" stroke-width="1.2"/>
<line x1="612" y1="1131" x2="612" y2="1205" stroke-width="1"/>
<ellipse cx="424.5" cy="1587.5" rx="3.6" ry="4.4" transform="rotate(15 424.5 1587.5)" stroke-width="1" fill="none"/>
<line x1="421.5" y1="1585" x2="427" y2="1590" stroke-width="0.8"/>
<ellipse cx="464" cy="1586" rx="3.5" ry="2.2" transform="rotate(10 464 1586)" stroke-width="1" fill="none"/>
<polygon points="237.1,1189.2 249.7,1190.8 260.7,1195.5 262.2,1201.8 257.5,1211.2 180.6,1413.6 179,1418 220,1440.6 226,1458 205.5,1471.6 117.8,1424 116.3,1413.6 124.1,1397.9 186.9,1300.6 237.1,1189.2" stroke-width="0" fill="#fff"/>
<path d="M237.1,1189.2 C239.2,1189.5 245.8,1189.8 249.7,1190.8 C253.6,1191.8 258.6,1193.7 260.7,1195.5 C262.8,1197.3 262.7,1199.2 262.2,1201.8 C261.7,1204.4 258.3,1209.6 257.5,1211.2" stroke-width="1.3" fill="none"/>
<polyline points="257.5,1211.2 180.6,1413.6 179,1418" stroke-width="1.3"/>
<polyline points="179,1418 220,1440.6" stroke-width="1.3"/>
<polyline points="205.5,1471.6 117.8,1424" stroke-width="1.3"/>
<path d="M117.8,1424 C117.5,1422.3 115.2,1417.9 116.3,1413.6 C117.3,1409.2 112.3,1416.7 124.1,1397.9 C135.9,1379.1 176.4,1316.8 186.9,1300.6" stroke-width="1.3" fill="none"/>
<polyline points="186.9,1300.6 237.1,1189.2" stroke-width="1.3"/>
<polyline points="245,1196 171.3,1409.7" stroke-width="1"/>
<path d="M171.3,1409.7 C171.7,1411.7 172,1418.2 173.6,1421.6 C175.2,1425 175.2,1426.2 180.8,1429.9 C186.4,1433.7 202.6,1441.7 206.9,1444.1" stroke-width="1" fill="none"/>
<polyline points="249,1197 175,1408" stroke-width="0.8"/>
<ellipse cx="214.3" cy="1457.4" rx="12.3" ry="16.2" transform="rotate(8 214.3 1457.4)" stroke-width="1.3" fill="#fff"/>
<ellipse cx="215.3" cy="1457.6" rx="10" ry="13.8" transform="rotate(8 215.3 1457.6)" stroke-width="1" fill="none"/>
<ellipse cx="253.4" cy="1201.8" rx="3" ry="4" transform="rotate(15 253.4 1201.8)" stroke-width="1" fill="none"/>
<ellipse cx="216.7" cy="1317.9" rx="3" ry="4" transform="rotate(15 216.7 1317.9)" stroke-width="1" fill="none"/>
<ellipse cx="182" cy="1452.4" rx="3.6" ry="4.2" transform="rotate(15 182 1452.4)" stroke-width="1" fill="none"/>
<line x1="180" y1="1450" x2="184" y2="1455" stroke-width="0.8"/>
<polygon points="254.3,1461.9 369.6,1523 372,1540 354.4,1546.7 244.1,1485.6 242,1472" stroke-width="0" fill="#fff"/>
<line x1="254.3" y1="1461.9" x2="369.6" y2="1523" stroke-width="1.3"/>
<line x1="244.1" y1="1485.6" x2="354.4" y2="1546.7" stroke-width="1.3"/>
<path d="M254.3,1461.9 Q243,1458 242,1472 Q241,1482 244.1,1485.6" stroke-width="1.3"/>
<ellipse cx="362.8" cy="1534.8" rx="11" ry="14.5" transform="rotate(25 362.8 1534.8)" stroke-width="1.3" fill="#fff"/>
<ellipse cx="363.5" cy="1534.5" rx="8.5" ry="12" transform="rotate(25 363.5 1534.5)" stroke-width="1" fill="none"/>
<ellipse cx="252.6" cy="1484" rx="3" ry="3.8" transform="rotate(20 252.6 1484)" stroke-width="1" fill="none"/>
<ellipse cx="342.5" cy="1531.4" rx="3" ry="3.8" transform="rotate(20 342.5 1531.4)" stroke-width="1" fill="none"/>
<line x1="250" y1="1481" x2="256" y2="1486" stroke-width="0.9"/>
<line x1="340" y1="1528" x2="346" y2="1533" stroke-width="0.9"/>
<polygon points="423.8,1646.5 428.9,1644.5 447.2,1652.6 450.2,1645.5 454.3,1644.5 477.7,1655.7 480.8,1661.8 477.7,1698.4 473.6,1703.5 461.4,1707.6 450.2,1706.6 414.6,1686.2 412.6,1681.1 420.7,1649.6" stroke-width="0" fill="#fff"/>
<path d="M423.8,1646.5 C425.1,1645.7 425,1643.5 428.9,1644.5 C432.8,1645.5 443.6,1652.5 447.2,1652.6 C450.7,1652.8 449,1646.9 450.2,1645.5 C451.4,1644.1 449.7,1642.8 454.3,1644.5 C458.9,1646.2 473.3,1652.8 477.7,1655.7 C482.1,1658.6 480.8,1654.7 480.8,1661.8 C480.8,1668.9 478.9,1691.5 477.7,1698.4 C476.5,1705.4 476.4,1702 473.6,1703.5 C470.9,1705 465.3,1707.1 461.4,1707.6 C457.5,1708.1 458,1710.1 450.2,1706.6 C442.4,1703 420.9,1690.4 414.6,1686.2 C408.3,1682 411.6,1687.2 412.6,1681.1 C413.6,1675 418.8,1655.3 420.7,1649.6 C422.6,1643.8 422.4,1647.4 423.8,1646.5Z" stroke-width="1.3" fill="none"/>
<path d="M447.2,1652.6 C447.7,1653.8 448.9,1657.5 450.2,1659.7 C451.6,1662 453.1,1664 455.3,1665.9 C457.5,1667.7 460.7,1670.4 463.5,1670.9 C466.2,1671.5 469.2,1670.4 471.6,1668.9 C474,1667.4 476.7,1663 477.7,1661.8" stroke-width="1.1" fill="none"/>
<polyline points="448.2,1653.6 450.2,1706.6" stroke-width="1.1"/>
<polyline points="428.9,1649.6 445.1,1655.7" stroke-width="0.8"/>
<polyline points="456.3,1649.6 475.7,1657.7" stroke-width="0.8"/>
<polyline points="416.6,1682.1 445.1,1696.4" stroke-width="0.8"/>
<polyline points="453.3,1700.5 474.7,1698.4" stroke-width="0.8"/>
<polygon points="86,1559.3 91.1,1557.2 109.6,1565.6 112.6,1558.2 116.7,1557.2 140.3,1568.7 143.4,1575 140.3,1612.7 136.2,1617.9 123.9,1622.1 112.6,1621.1 76.8,1600.1 74.7,1594.9 82.9,1562.4" stroke-width="0" fill="#fff"/>
<path d="M86,1559.3 C87.3,1558.4 87.2,1556.2 91.1,1557.2 C95,1558.2 106,1565.4 109.6,1565.6 C113.1,1565.7 111.4,1559.6 112.6,1558.2 C113.8,1556.9 112.1,1555.5 116.7,1557.2 C121.3,1558.9 135.9,1565.7 140.3,1568.7 C144.8,1571.7 143.4,1567.7 143.4,1575 C143.4,1582.3 141.5,1605.5 140.3,1612.7 C139.1,1619.8 139,1616.3 136.2,1617.9 C133.5,1619.5 127.8,1621.6 123.9,1622.1 C120,1622.6 120.5,1624.7 112.6,1621.1 C104.8,1617.4 83.1,1604.5 76.8,1600.1 C70.4,1595.8 73.7,1601.2 74.7,1594.9 C75.7,1588.6 81,1568.4 82.9,1562.4 C84.8,1556.5 84.6,1560.2 86,1559.3Z" stroke-width="1.3" fill="none"/>
<path d="M109.6,1565.6 C110.1,1566.8 111.3,1570.6 112.6,1572.9 C114,1575.2 115.5,1577.3 117.8,1579.2 C120,1581.1 123.2,1583.9 126,1584.4 C128.7,1584.9 131.8,1583.9 134.2,1582.3 C136.6,1580.8 139.3,1576.2 140.3,1575" stroke-width="1.1" fill="none"/>
<polyline points="110.6,1566.6 112.6,1621.1" stroke-width="1.1"/>
<polyline points="91.1,1562.4 107.5,1568.7" stroke-width="0.8"/>
<polyline points="118.8,1562.4 138.3,1570.8" stroke-width="0.8"/>
<polyline points="78.8,1595.9 107.5,1610.6" stroke-width="0.8"/>
<polyline points="115.7,1614.8 137.2,1612.7" stroke-width="0.8"/>
<polygon points="111.7,1638.1 107.2,1643.9 98.2,1643.9 93.7,1638.1 98.2,1632.3 107.2,1632.3" stroke-width="1.2" fill="#fff"/>
<ellipse cx="102.7" cy="1638.1" rx="4.5" ry="3.4" transform="rotate(0 102.7 1638.1)" stroke-width="1.2" fill="none"/>
<ellipse cx="102.7" cy="1636.1" rx="9" ry="5.4" transform="rotate(0 102.7 1636.1)" stroke-width="1" fill="none"/>
<polygon points="450.6,1726 446.4,1731.5 437.9,1731.5 433.6,1726 437.9,1720.5 446.4,1720.5" stroke-width="1.2" fill="#fff"/>
<ellipse cx="442.1" cy="1726" rx="4.2" ry="3.2" transform="rotate(0 442.1 1726)" stroke-width="1.2" fill="none"/>
<ellipse cx="442.1" cy="1724" rx="8.5" ry="5.1" transform="rotate(0 442.1 1724)" stroke-width="1" fill="none"/>
<ellipse cx="796.7" cy="1379" rx="13.1" ry="21.2" transform="rotate(-22 796.7 1379)" stroke-width="1.2" fill="#fff"/>
<polygon points="735.7,1388.5 786.5,1360.5 806.9,1397.5 756,1425.5" stroke-width="0" fill="#fff"/>
<polyline points="735.7,1388.5 786.5,1360.5" stroke-width="1.2"/>
<polyline points="756,1425.5 806.9,1397.5" stroke-width="1.2"/>
<ellipse cx="745.9" cy="1407" rx="13.1" ry="21.2" transform="rotate(-22 745.9 1407)" stroke-width="1.2" fill="#fff"/>
<ellipse cx="786.3" cy="1369.3" rx="5" ry="7" transform="rotate(-20 786.3 1369.3)" stroke-width="1" fill="#fff"/>
<ellipse cx="745.9" cy="1407" rx="17.1" ry="27.5" transform="rotate(-22 745.9 1407)" stroke-width="1.1" fill="#fff"/>
<polygon points="727.4,1385.9 732.7,1383 759.1,1431 753.8,1433.9" stroke-width="0" fill="#fff"/>
<polyline points="727.4,1385.9 732.7,1383" stroke-width="1.1"/>
<polyline points="753.8,1433.9 759.1,1431" stroke-width="1.1"/>
<ellipse cx="740.6" cy="1409.9" rx="17.1" ry="27.5" transform="rotate(-22 740.6 1409.9)" stroke-width="1.1" fill="#fff"/>
<ellipse cx="743.7" cy="1408.2" rx="16.4" ry="26.5" transform="rotate(-22 743.7 1408.2)" stroke-width="0.8" fill="none"/>
<ellipse cx="740.6" cy="1409.9" rx="14.9" ry="24" transform="rotate(-22 740.6 1409.9)" stroke-width="1.1" fill="#fff"/>
<polygon points="716,1396.1 729.1,1388.9 752.1,1430.8 739,1438" stroke-width="0" fill="#fff"/>
<polyline points="716,1396.1 729.1,1388.9" stroke-width="1.1"/>
<polyline points="739,1438 752.1,1430.8" stroke-width="1.1"/>
<ellipse cx="727.5" cy="1417.1" rx="14.9" ry="24" transform="rotate(-22 727.5 1417.1)" stroke-width="1.1" fill="#fff"/>
<polyline points="721.7,1406.6 734.8,1399.3" stroke-width="0.9"/>
<polyline points="733.2,1427.6 746.4,1420.4" stroke-width="0.9"/>
<ellipse cx="727.5" cy="1417.1" rx="11.7" ry="18.8" transform="rotate(-22 727.5 1417.1)" stroke-width="1.1" fill="#fff"/>
<polygon points="693,1414.7 718.4,1400.7 736.5,1433.5 711.1,1447.5" stroke-width="0" fill="#fff"/>
<polyline points="693,1414.7 718.4,1400.7" stroke-width="1.1"/>
<polyline points="711.1,1447.5 736.5,1433.5" stroke-width="1.1"/>
<ellipse cx="702" cy="1431.1" rx="11.7" ry="18.8" transform="rotate(-22 702 1431.1)" stroke-width="1.1" fill="#fff"/>
<polyline points="696,1413.1 696.9,1412.5 697.8,1412.1 698.8,1411.8 699.8,1411.6 700.8,1411.6 701.9,1411.6 703,1411.9 704.2,1412.2 705.3,1412.7 706.4,1413.4 707.5,1414.1 708.6,1415 709.7,1415.9 710.7,1417 711.7,1418.2 712.6,1419.5 713.5,1420.8 714.3,1422.2 715,1423.6 715.7,1425.2 716.2,1426.7 716.7,1428.2 717.1,1429.8 717.4,1431.4 717.6,1432.9 717.7,1434.5 717.7,1435.9 717.7,1437.4 717.5,1438.8 717.2,1440.1 716.8,1441.3 716.4,1442.4 715.8,1443.5 715.2,1444.4 714.5,1445.2" stroke-width="0.8"/>
<polyline points="698.8,1411.6 699.7,1411 700.6,1410.5 701.6,1410.2 702.6,1410.1 703.7,1410 704.7,1410.1 705.8,1410.3 707,1410.7 708.1,1411.2 709.2,1411.8 710.3,1412.6 711.4,1413.4 712.5,1414.4 713.5,1415.5 714.5,1416.7 715.4,1417.9 716.3,1419.2 717.1,1420.6 717.8,1422.1 718.5,1423.6 719,1425.1 719.5,1426.7 719.9,1428.3 720.2,1429.8 720.4,1431.4 720.5,1432.9 720.6,1434.4 720.5,1435.8 720.3,1437.2 720,1438.5 719.6,1439.8 719.2,1440.9 718.6,1441.9 718,1442.9 717.3,1443.7" stroke-width="0.8"/>
<polyline points="701.7,1410 702.5,1409.5 703.4,1409 704.4,1408.7 705.4,1408.5 706.5,1408.5 707.5,1408.6 708.6,1408.8 709.8,1409.2 710.9,1409.7 712,1410.3 713.1,1411 714.2,1411.9 715.3,1412.9 716.3,1413.9 717.3,1415.1 718.2,1416.4 719.1,1417.7 719.9,1419.1 720.6,1420.6 721.3,1422.1 721.8,1423.6 722.3,1425.2 722.7,1426.7 723,1428.3 723.2,1429.8 723.3,1431.4 723.4,1432.9 723.3,1434.3 723.1,1435.7 722.8,1437 722.4,1438.2 722,1439.3 721.4,1440.4 720.8,1441.3 720.1,1442.1" stroke-width="0.8"/>
<polyline points="704.5,1408.5 705.3,1407.9 706.2,1407.5 707.2,1407.1 708.2,1407 709.3,1406.9 710.3,1407 711.5,1407.3 712.6,1407.6 713.7,1408.1 714.8,1408.7 715.9,1409.5 717,1410.3 718.1,1411.3 719.1,1412.4 720.1,1413.6 721,1414.8 721.9,1416.2 722.7,1417.6 723.4,1419 724.1,1420.5 724.6,1422.1 725.1,1423.6 725.5,1425.2 725.8,1426.8 726,1428.3 726.1,1429.8 726.2,1431.3 726.1,1432.8 725.9,1434.1 725.6,1435.4 725.2,1436.7 724.8,1437.8 724.2,1438.8 723.6,1439.8 722.9,1440.6" stroke-width="0.8"/>
<polyline points="707.3,1406.9 708.1,1406.4 709,1405.9 710,1405.6 711,1405.4 712.1,1405.4 713.1,1405.5 714.3,1405.7 715.4,1406.1 716.5,1406.6 717.6,1407.2 718.7,1407.9 719.8,1408.8 720.9,1409.8 721.9,1410.9 722.9,1412 723.8,1413.3 724.7,1414.6 725.5,1416 726.2,1417.5 726.9,1419 727.5,1420.5 727.9,1422.1 728.3,1423.6 728.6,1425.2 728.8,1426.8 729,1428.3 729,1429.8 728.9,1431.2 728.7,1432.6 728.4,1433.9 728,1435.1 727.6,1436.3 727,1437.3 726.4,1438.2 725.7,1439.1" stroke-width="0.8"/>
<polyline points="710.1,1405.4 710.9,1404.8 711.8,1404.4 712.8,1404.1 713.8,1403.9 714.9,1403.8 716,1403.9 717.1,1404.2 718.2,1404.5 719.3,1405 720.4,1405.7 721.5,1406.4 722.6,1407.3 723.7,1408.2 724.7,1409.3 725.7,1410.5 726.6,1411.7 727.5,1413.1 728.3,1414.5 729,1415.9 729.7,1417.4 730.3,1419 730.7,1420.5 731.1,1422.1 731.4,1423.7 731.6,1425.2 731.8,1426.7 731.8,1428.2 731.7,1429.7 731.5,1431 731.2,1432.4 730.8,1433.6 730.4,1434.7 729.8,1435.8 729.2,1436.7 728.5,1437.5" stroke-width="0.8"/>
<polyline points="712.9,1403.9 713.7,1403.3 714.6,1402.8 715.6,1402.5 716.6,1402.3 717.7,1402.3 718.8,1402.4 719.9,1402.6 721,1403 722.1,1403.5 723.2,1404.1 724.3,1404.9 725.4,1405.7 726.5,1406.7 727.5,1407.8 728.5,1408.9 729.4,1410.2 730.3,1411.5 731.1,1412.9 731.8,1414.4 732.5,1415.9 733.1,1417.4 733.5,1419 733.9,1420.6 734.2,1422.1 734.5,1423.7 734.6,1425.2 734.6,1426.7 734.5,1428.1 734.3,1429.5 734,1430.8 733.6,1432 733.2,1433.2 732.6,1434.2 732,1435.2 731.3,1436" stroke-width="0.8"/>
<polyline points="715.7,1402.3 716.5,1401.7 717.4,1401.3 718.4,1401 719.4,1400.8 720.5,1400.8 721.6,1400.9 722.7,1401.1 723.8,1401.4 724.9,1401.9 726,1402.6 727.1,1403.3 728.2,1404.2 729.3,1405.2 730.3,1406.2 731.3,1407.4 732.2,1408.7 733.1,1410 733.9,1411.4 734.6,1412.9 735.3,1414.4 735.9,1415.9 736.3,1417.5 736.7,1419 737,1420.6 737.3,1422.1 737.4,1423.7 737.4,1425.1 737.3,1426.6 737.1,1428 736.8,1429.3 736.5,1430.5 736,1431.6 735.4,1432.7 734.8,1433.6 734.1,1434.4" stroke-width="0.8"/>
<ellipse cx="702" cy="1431.1" rx="11.7" ry="18.8" transform="rotate(-22 702 1431.1)" stroke-width="1.3" fill="#fff"/>
<ellipse cx="702.6" cy="1430.8" rx="10" ry="16.2" transform="rotate(-22 702.6 1430.8)" stroke-width="0.9" fill="none"/>
<polyline points="684.5,1440.7 703.8,1430.1" stroke-width="1"/>
<ellipse cx="922" cy="1310.1" rx="11.7" ry="18.8" transform="rotate(-22 922 1310.1)" stroke-width="1.1" fill="#fff"/>
<polygon points="888.4,1307.2 913,1293.7 931,1326.5 906.5,1340" stroke-width="0" fill="#fff"/>
<polyline points="888.4,1307.2 913,1293.7" stroke-width="1.1"/>
<polyline points="906.5,1340 931,1326.5" stroke-width="1.1"/>
<polyline points="891.5,1305.7 892.3,1305.1 893.2,1304.7 894.2,1304.3 895.2,1304.2 896.3,1304.1 897.3,1304.2 898.5,1304.4 899.6,1304.8 900.7,1305.3 901.8,1305.9 902.9,1306.7 904,1307.5 905.1,1308.5 906.1,1309.6 907.1,1310.8 908,1312 908.9,1313.4 909.7,1314.8 910.4,1316.2 911.1,1317.7 911.7,1319.3 912.1,1320.8 912.5,1322.4 912.8,1323.9 913,1325.5 913.2,1327 913.2,1328.5 913.1,1329.9 912.9,1331.3 912.6,1332.6 912.2,1333.9 911.8,1335 911.2,1336 910.6,1337 909.9,1337.8" stroke-width="0.8"/>
<polyline points="894.3,1304.1 895.1,1303.6 896,1303.1 897,1302.8 898,1302.6 899.1,1302.6 900.2,1302.7 901.3,1302.9 902.4,1303.3 903.5,1303.8 904.6,1304.4 905.7,1305.1 906.8,1306 907.9,1307 908.9,1308 909.9,1309.2 910.8,1310.5 911.7,1311.8 912.5,1313.2 913.2,1314.7 913.9,1316.2 914.5,1317.7 914.9,1319.3 915.3,1320.8 915.6,1322.4 915.8,1324 916,1325.5 916,1327 915.9,1328.4 915.7,1329.8 915.4,1331.1 915,1332.3 914.6,1333.5 914,1334.5 913.4,1335.4 912.7,1336.3" stroke-width="0.8"/>
<polyline points="897.1,1302.6 897.9,1302 898.8,1301.6 899.8,1301.3 900.8,1301.1 901.9,1301 903,1301.1 904.1,1301.4 905.2,1301.7 906.3,1302.2 907.4,1302.8 908.5,1303.6 909.6,1304.5 910.7,1305.4 911.7,1306.5 912.7,1307.7 913.6,1308.9 914.5,1310.3 915.3,1311.7 916,1313.1 916.7,1314.6 917.3,1316.2 917.7,1317.7 918.1,1319.3 918.4,1320.9 918.6,1322.4 918.8,1323.9 918.8,1325.4 918.7,1326.9 918.5,1328.2 918.2,1329.6 917.8,1330.8 917.4,1331.9 916.8,1333 916.2,1333.9 915.5,1334.7" stroke-width="0.8"/>
<polyline points="899.9,1301.1 900.7,1300.5 901.6,1300 902.6,1299.7 903.6,1299.5 904.7,1299.5 905.8,1299.6 906.9,1299.8 908,1300.2 909.1,1300.7 910.2,1301.3 911.3,1302 912.4,1302.9 913.5,1303.9 914.5,1305 915.5,1306.1 916.4,1307.4 917.3,1308.7 918.1,1310.1 918.8,1311.6 919.5,1313.1 920.1,1314.6 920.5,1316.2 920.9,1317.8 921.2,1319.3 921.5,1320.9 921.6,1322.4 921.6,1323.9 921.5,1325.3 921.3,1326.7 921,1328 920.7,1329.2 920.2,1330.4 919.6,1331.4 919,1332.3 918.3,1333.2" stroke-width="0.8"/>
<polyline points="902.7,1299.5 903.5,1298.9 904.4,1298.5 905.4,1298.2 906.4,1298 907.5,1298 908.6,1298 909.7,1298.3 910.8,1298.6 911.9,1299.1 913,1299.8 914.1,1300.5 915.2,1301.4 916.3,1302.3 917.3,1303.4 918.3,1304.6 919.2,1305.9 920.1,1307.2 920.9,1308.6 921.6,1310.1 922.3,1311.6 922.9,1313.1 923.4,1314.6 923.7,1316.2 924.1,1317.8 924.3,1319.3 924.4,1320.9 924.4,1322.3 924.3,1323.8 924.1,1325.2 923.8,1326.5 923.5,1327.7 923,1328.8 922.4,1329.9 921.8,1330.8 921.1,1331.6" stroke-width="0.8"/>
<polyline points="905.5,1298 906.3,1297.4 907.2,1296.9 908.2,1296.6 909.2,1296.5 910.3,1296.4 911.4,1296.5 912.5,1296.7 913.6,1297.1 914.7,1297.6 915.8,1298.2 917,1299 918,1299.8 919.1,1300.8 920.1,1301.9 921.1,1303.1 922,1304.3 922.9,1305.7 923.7,1307.1 924.4,1308.5 925.1,1310 925.7,1311.5 926.2,1313.1 926.6,1314.7 926.9,1316.2 927.1,1317.8 927.2,1319.3 927.2,1320.8 927.1,1322.2 926.9,1323.6 926.6,1324.9 926.3,1326.2 925.8,1327.3 925.2,1328.3 924.6,1329.3 923.9,1330.1" stroke-width="0.8"/>
<polyline points="908.3,1296.4 909.1,1295.9 910.1,1295.4 911,1295.1 912,1294.9 913.1,1294.9 914.2,1295 915.3,1295.2 916.4,1295.6 917.5,1296.1 918.6,1296.7 919.8,1297.4 920.8,1298.3 921.9,1299.3 922.9,1300.3 923.9,1301.5 924.8,1302.8 925.7,1304.1 926.5,1305.5 927.2,1307 927.9,1308.5 928.5,1310 929,1311.6 929.4,1313.1 929.7,1314.7 929.9,1316.2 930,1317.8 930,1319.3 929.9,1320.7 929.7,1322.1 929.4,1323.4 929.1,1324.6 928.6,1325.8 928,1326.8 927.4,1327.7 926.7,1328.5" stroke-width="0.8"/>
<polyline points="911.1,1294.9 911.9,1294.3 912.9,1293.9 913.8,1293.6 914.8,1293.4 915.9,1293.3 917,1293.4 918.1,1293.7 919.2,1294 920.3,1294.5 921.5,1295.1 922.6,1295.9 923.7,1296.7 924.7,1297.7 925.7,1298.8 926.7,1300 927.6,1301.2 928.5,1302.6 929.3,1304 930.1,1305.4 930.7,1306.9 931.3,1308.5 931.8,1310 932.2,1311.6 932.5,1313.2 932.7,1314.7 932.8,1316.2 932.8,1317.7 932.7,1319.2 932.5,1320.5 932.2,1321.8 931.9,1323.1 931.4,1324.2 930.8,1325.2 930.2,1326.2 929.5,1327" stroke-width="0.8"/>
<ellipse cx="897.5" cy="1323.6" rx="14.9" ry="24" transform="rotate(-22 897.5 1323.6)" stroke-width="1.1" fill="#fff"/>
<polygon points="874.6,1309 886,1302.7 909,1344.6 897.6,1350.8" stroke-width="0" fill="#fff"/>
<polyline points="874.6,1309 886,1302.7" stroke-width="1.1"/>
<polyline points="897.6,1350.8 909,1344.6" stroke-width="1.1"/>
<ellipse cx="886.1" cy="1329.9" rx="14.9" ry="24" transform="rotate(-22 886.1 1329.9)" stroke-width="1.1" fill="#fff"/>
<polyline points="880.3,1319.4 891.7,1313.1" stroke-width="0.9"/>
<polyline points="891.9,1340.4 903.2,1334.1" stroke-width="0.9"/>
<ellipse cx="886.1" cy="1329.9" rx="17.1" ry="27.5" transform="rotate(-22 886.1 1329.9)" stroke-width="1.1" fill="#fff"/>
<polygon points="867.6,1308.8 872.9,1305.9 899.3,1353.9 894,1356.8" stroke-width="0" fill="#fff"/>
<polyline points="867.6,1308.8 872.9,1305.9" stroke-width="1.1"/>
<polyline points="894,1356.8 899.3,1353.9" stroke-width="1.1"/>
<ellipse cx="880.8" cy="1332.8" rx="17.1" ry="27.5" transform="rotate(-22 880.8 1332.8)" stroke-width="1.1" fill="#fff"/>
<ellipse cx="883" cy="1331.6" rx="16.4" ry="26.5" transform="rotate(-22 883 1331.6)" stroke-width="0.8" fill="none"/>
<ellipse cx="880.8" cy="1332.8" rx="13.1" ry="21.2" transform="rotate(-22 880.8 1332.8)" stroke-width="1.2" fill="#fff"/>
<polygon points="831.2,1336 870.6,1314.3 891,1351.3 851.6,1373" stroke-width="0" fill="#fff"/>
<polyline points="831.2,1336 870.6,1314.3" stroke-width="1.2"/>
<polyline points="851.6,1373 891,1351.3" stroke-width="1.2"/>
<polyline points="851.3,1373 850.4,1373.6 849.3,1374.1 848.2,1374.5 847.1,1374.7 845.9,1374.7 844.7,1374.6 843.4,1374.4 842.2,1373.9 840.9,1373.4 839.6,1372.7 838.4,1371.8 837.2,1370.9 836,1369.8 834.8,1368.6 833.7,1367.2 832.6,1365.8 831.7,1364.3 830.8,1362.7 829.9,1361.1 829.2,1359.4 828.6,1357.7 828,1355.9 827.6,1354.1 827.2,1352.4 827,1350.6 826.9,1348.9 826.8,1347.2 826.9,1345.6 827.1,1344 827.5,1342.6 827.9,1341.2 828.4,1339.9 829,1338.7 829.8,1337.7 830.6,1336.7" stroke-width="1.2"/>
<ellipse cx="851.1" cy="1361.7" rx="5.2" ry="7.4" transform="rotate(-20 851.1 1361.7)" stroke-width="1" fill="#fff"/>
<polyline points="922,1310.1 951.8,1293.8" stroke-width="1"/>
<path d="M1023.9,1420.7 C1023.4,1419.6 1022.9,1416.2 1023.3,1414.4 C1023.7,1412.6 1025.3,1411.1 1026.5,1409.9 C1027.7,1408.7 1029.1,1407.7 1030.3,1407.4 C1031.5,1407.1 1032.4,1407.6 1033.4,1408 C1034.5,1408.4 1035.8,1410.3 1036.6,1409.9 C1037.4,1409.5 1037.5,1406.8 1038.5,1405.4 C1039.5,1404 1040.7,1402.9 1042.4,1401.6 C1044.1,1400.3 1046.7,1398.8 1048.7,1397.8 C1050.7,1396.8 1052.6,1396.1 1054.4,1395.6 C1056.2,1395.1 1058,1395.1 1059.5,1394.9 C1061,1394.7 1062.3,1394 1063.3,1394.3 C1064.3,1394.6 1064.6,1395.7 1065.3,1396.5 C1066,1397.3 1067.5,1398.3 1067.2,1399.1 C1066.9,1399.8 1066.7,1399.2 1063.3,1401 C1059.9,1402.8 1051.7,1407.5 1046.8,1409.9 C1041.9,1412.3 1037.5,1413.7 1034.1,1415.6 C1030.7,1417.5 1028.2,1420.4 1026.5,1421.3 C1024.8,1422.2 1024.4,1421.8 1023.9,1420.7Z" stroke-width="1.2" fill="none"/>
<path d="M1026.5,1418.2 C1026.6,1417.2 1026.5,1413.7 1027.1,1412.4 C1027.7,1411.1 1029.1,1410.7 1030.3,1410.5 C1031.5,1410.3 1033,1411 1034.1,1411.2 C1035.1,1411.4 1036.2,1411.7 1036.6,1411.8" stroke-width="1" fill="none"/>
<polyline points="1037.3,1411.2 1050.6,1404.2 1064,1398.4" stroke-width="1"/>
<path d="M1039.2,1406.7 C1040.3,1406 1043.7,1403.8 1046,1402.5 C1048.3,1401.2 1050.5,1400.1 1053.2,1399.1 C1055.9,1398.1 1060.6,1396.9 1062.1,1396.5" stroke-width="0.9" fill="none"/>
<polygon points="815.9,1625.5 828.8,1611.1 834.6,1590.9 849,1576.5 866.3,1565 885.1,1556.3 885.1,1541.3 898.1,1533.3 899.5,1517.4 909.6,1508.7 926.9,1503 947.1,1503 964.4,1507.3 973,1516 976.5,1526.9 996.1,1527.5 1001.9,1534.7 1014.8,1566.4 1014,1580.8 1004.8,1590.4 999,1599.6 999,1615.4 996.1,1634.2 984.6,1645.7 967.3,1650.1 950,1660.1 938.4,1665.9 915.4,1678.9 892.3,1683.8 872.1,1680.3 863.4,1674.6 837.5,1677.4 821.6,1665.9 815.9,1645.7" stroke-width="0" fill="#fff"/>
<path d="M828.8,1611.1 C829.6,1608.2 830,1599.3 833.2,1593.8 C836.3,1588.3 842.1,1582.5 847.6,1578 C853.1,1573.4 859.8,1569.6 866.3,1566.4 C872.8,1563.2 883.2,1559.9 886.5,1558.6" stroke-width="1.3" fill="none"/>
<path d="M863.4,1674.6 C865.4,1675.6 870.2,1679.4 875,1680.9 C879.8,1682.4 885.6,1684.1 892.3,1683.8 C899,1683.5 907.7,1682 915.4,1678.9 C923,1675.8 931.7,1669.7 938.4,1665.3 C945.2,1661 950.9,1655.6 955.7,1652.9 C960.5,1650.2 965.3,1649.8 967.3,1649.2" stroke-width="1.3" fill="none"/>
<path d="M999,1589.5 C999,1591.2 999,1596 999,1599.6 C999,1603.2 999,1609.2 999,1611.1" stroke-width="1.2" fill="none"/>
<polyline points="976.5,1526.9 996.1,1527.5 1001.9,1534.7 1014.8,1566.4 1014,1580.8 1004.8,1590.4 999,1591.5" stroke-width="1.2"/>
<polyline points="1001.9,1534.7 999,1541.9 1009.1,1573.6 1014,1580.8" stroke-width="1"/>
<polyline points="976.5,1533.3 999,1541.9" stroke-width="1"/>
<polyline points="898.1,1533.3 885.1,1541.3 885.9,1557.8 903.8,1564.4 926.9,1568.4 961.5,1568.4 980.2,1562.7 986,1552 984.6,1539 974.5,1533.3" stroke-width="1.2"/>
<polyline points="885.9,1557.8 895.2,1554.9 899.5,1547.7" stroke-width="1"/>
<polyline points="974.5,1546.2 981.7,1550.6 986,1552" stroke-width="1"/>
<polygon points="898.1,1526 899.5,1517.4 909.6,1508.7 926.9,1503 947.1,1503 964.4,1507.3 973,1516 974.5,1527.5 974.5,1546.2 960.1,1559.2 915.4,1559.2 899.5,1547.7" stroke-width="1.3" fill="#fff"/>
<polyline points="898.1,1533.3 913.9,1546.2 960.1,1546.2 974.5,1533.3" stroke-width="1.1"/>
<polyline points="913.9,1546.2 915.4,1559.2" stroke-width="1"/>
<polyline points="960.1,1546.2 960.1,1559.2" stroke-width="1"/>
<ellipse cx="936.1" cy="1523.2" rx="37.5" ry="19.6" transform="rotate(0 936.1 1523.2)" stroke-width="1.2" fill="none"/>
<ellipse cx="935.5" cy="1523.2" rx="21.6" ry="12.1" transform="rotate(0 935.5 1523.2)" stroke-width="1.1" fill="none"/>
<ellipse cx="935.5" cy="1526" rx="4.3" ry="2" transform="rotate(0 935.5 1526)" stroke-width="1" fill="none"/>
<polyline points="866.3,1611.1 889.4,1596.7 921.1,1576.5 935.5,1580.8 944.2,1589.5 957.2,1593.8" stroke-width="1"/>
<polyline points="880.7,1637.1 921.1,1631.3" stroke-width="1"/>
<polyline points="866.3,1668.8 883.6,1671.7" stroke-width="0.9"/>
<polyline points="903.8,1599.6 912.5,1616.9" stroke-width="0.9"/>
<polyline points="918.2,1640 915.4,1663" stroke-width="0.9"/>
<polyline points="870.7,1576.5 886.5,1584.6" stroke-width="0.9"/>
<polyline points="850.5,1593.8 859.1,1579.4" stroke-width="0.9"/>
<polyline points="886.5,1665.9 898.1,1674.6" stroke-width="0.9"/>
<polygon points="955.4,1625.5 959.1,1610.6 968.5,1601.3 977.8,1595.7 990.9,1597.6 996,1605 997,1635 985,1647 972.2,1648.9 964.7,1648 957.3,1638.6" stroke-width="1.2" fill="#fff"/>
<polyline points="959.1,1610.6 966,1615 968.5,1601.3" stroke-width="0.9"/>
<polyline points="966,1615 962,1636 964.7,1648" stroke-width="0.9"/>
<ellipse cx="983.5" cy="1624.6" rx="14.2" ry="21.5" transform="rotate(10 983.5 1624.6)" stroke-width="1.2" fill="#fff"/>
<ellipse cx="983.8" cy="1625.2" rx="9.6" ry="15" transform="rotate(10 983.8 1625.2)" stroke-width="1.2" fill="#fff"/>
<ellipse cx="984.5" cy="1625.2" rx="7.6" ry="12.6" transform="rotate(10 984.5 1625.2)" stroke-width="0.9" fill="none"/>
<polygon points="828.8,1609.7 839,1604.6 858.5,1607.1 861.9,1610.5 878.9,1645.3 878.9,1649.6 873.8,1667.4 861.1,1673.3 840,1670 820,1640" stroke-width="1.2" fill="#fff"/>
<polyline points="840.7,1615.6 848.3,1615.6 858.5,1608" stroke-width="1"/>
<polyline points="848.3,1616.5 862.8,1647.9 867,1653.8 878.9,1647" stroke-width="1"/>
<polyline points="867,1653.8 863.6,1671.6" stroke-width="1"/>
<ellipse cx="838.6" cy="1643.6" rx="20.9" ry="34" transform="rotate(-20 838.6 1643.6)" stroke-width="1.3" fill="#fff"/>
<ellipse cx="838.2" cy="1645.3" rx="12.5" ry="18.6" transform="rotate(-20 838.2 1645.3)" stroke-width="1.2" fill="#fff"/>
<polyline points="833,1627.9 833.8,1627.9 834.7,1627.9 835.6,1628 836.5,1628.3 837.4,1628.5 838.3,1628.9 839.2,1629.4 840.1,1629.9 841,1630.5 841.8,1631.2 842.6,1631.9 843.4,1632.7 844.2,1633.6 844.9,1634.5 845.6,1635.5 846.3,1636.5 846.9,1637.6 847.4,1638.7 847.9,1639.8 848.4,1641 848.8,1642.1 849.1,1643.3 849.4,1644.5 849.6,1645.7 849.8,1646.9 849.9,1648.1 849.9,1649.3 849.9,1650.5 849.8,1651.6 849.6,1652.7 849.4,1653.7 849.1,1654.8 848.8,1655.7 848.4,1656.7 848,1657.5 847.5,1658.3 846.9,1659.1 846.3,1659.7 845.7,1660.3 845,1660.9" stroke-width="0.7"/>
<polyline points="832,1628.5 832.8,1628.4 833.7,1628.5 834.5,1628.6 835.4,1628.8 836.3,1629.1 837.1,1629.4 838,1629.8 838.8,1630.4 839.7,1630.9 840.5,1631.6 841.3,1632.3 842,1633 842.8,1633.9 843.5,1634.7 844.1,1635.7 844.8,1636.7 845.3,1637.7 845.9,1638.7 846.4,1639.8 846.8,1640.9 847.2,1642 847.5,1643.2 847.8,1644.3 848,1645.5 848.1,1646.6 848.2,1647.7 848.2,1648.9 848.2,1650 848.1,1651.1 848,1652.1 847.7,1653.1 847.5,1654.1 847.2,1655 846.8,1655.9 846.3,1656.7 845.8,1657.5 845.3,1658.2 844.7,1658.9 844.1,1659.4 843.4,1659.9" stroke-width="0.7"/>
<polyline points="831,1629 831.8,1629 832.6,1629 833.4,1629.1 834.3,1629.3 835.1,1629.6 835.9,1629.9 836.8,1630.3 837.6,1630.8 838.4,1631.3 839.2,1632 839.9,1632.6 840.7,1633.4 841.4,1634.1 842,1635 842.7,1635.9 843.3,1636.8 843.8,1637.8 844.3,1638.8 844.8,1639.8 845.2,1640.8 845.6,1641.9 845.9,1643 846.1,1644.1 846.3,1645.2 846.5,1646.3 846.6,1647.4 846.6,1648.4 846.5,1649.5 846.4,1650.5 846.3,1651.5 846.1,1652.5 845.8,1653.4 845.5,1654.3 845.1,1655.2 844.7,1656 844.2,1656.7 843.7,1657.4 843.2,1658 842.5,1658.5 841.9,1659" stroke-width="0.7"/>
<polyline points="830,1629.6 830.8,1629.6 831.6,1629.6 832.4,1629.7 833.2,1629.9 834,1630.1 834.8,1630.4 835.6,1630.8 836.3,1631.3 837.1,1631.8 837.9,1632.3 838.6,1633 839.3,1633.7 840,1634.4 840.6,1635.2 841.2,1636 841.8,1636.9 842.3,1637.8 842.8,1638.8 843.3,1639.8 843.6,1640.8 844,1641.8 844.3,1642.8 844.5,1643.9 844.7,1644.9 844.8,1645.9 844.9,1647 844.9,1648 844.9,1649 844.8,1650 844.6,1650.9 844.4,1651.9 844.2,1652.8 843.9,1653.6 843.5,1654.4 843.1,1655.2 842.6,1655.9 842.1,1656.5 841.6,1657.1 841,1657.6 840.4,1658.1" stroke-width="0.7"/>
<polyline points="829,1630.2 829.7,1630.1 830.5,1630.1 831.3,1630.2 832,1630.4 832.8,1630.6 833.6,1630.9 834.3,1631.3 835.1,1631.7 835.8,1632.2 836.5,1632.7 837.2,1633.3 837.9,1634 838.6,1634.7 839.2,1635.4 839.8,1636.2 840.3,1637.1 840.8,1637.9 841.3,1638.8 841.7,1639.8 842.1,1640.7 842.4,1641.7 842.7,1642.7 842.9,1643.6 843.1,1644.6 843.2,1645.6 843.2,1646.6 843.3,1647.6 843.2,1648.5 843.1,1649.5 843,1650.4 842.8,1651.2 842.5,1652.1 842.2,1652.9 841.9,1653.7 841.5,1654.4 841,1655.1 840.5,1655.7 840,1656.2 839.4,1656.7 838.8,1657.2" stroke-width="0.7"/>
<polyline points="828,1630.7 828.7,1630.7 829.4,1630.7 830.2,1630.8 830.9,1630.9 831.7,1631.1 832.4,1631.4 833.1,1631.8 833.8,1632.2 834.5,1632.6 835.2,1633.1 835.9,1633.7 836.5,1634.3 837.2,1635 837.8,1635.7 838.3,1636.4 838.8,1637.2 839.3,1638 839.7,1638.9 840.1,1639.7 840.5,1640.6 840.8,1641.6 841.1,1642.5 841.3,1643.4 841.4,1644.4 841.5,1645.3 841.6,1646.2 841.6,1647.1 841.5,1648 841.5,1648.9 841.3,1649.8 841.1,1650.6 840.9,1651.4 840.6,1652.2 840.2,1652.9 839.8,1653.6 839.4,1654.2 838.9,1654.8 838.4,1655.4 837.9,1655.8 837.3,1656.3" stroke-width="0.7"/>
<polyline points="800,1665.9 840.4,1645.7" stroke-width="1"/>
<polygon points="1043.1,1487.3 1046.4,1481.8 1051.9,1476.3 1055.2,1471.9 1059.6,1463.1 1062.9,1454.3 1068.4,1447.6 1076.2,1443.2 1085,1441 1093.8,1441 1101.5,1444.3 1107,1449.8 1108.7,1456.5 1109.2,1459.8 1113.6,1466.4 1119.2,1478.5 1122.5,1491.7 1123,1500.6 1120.3,1509.4 1119.7,1518.2 1115.9,1527 1112.5,1533.6 1115.9,1532.5 1125.8,1530.3 1128,1533.6 1126.9,1542.5 1122.5,1550.2 1118.1,1556.8 1101.5,1557.9 1092.7,1553.5 1087.2,1551.3 1078.4,1551.3 1065.1,1556.3 1047.5,1549.1 1028.7,1507.2" stroke-width="0" fill="#fff"/>
<path d="M1046.4,1481.8 C1047.3,1480.9 1050.4,1478 1051.9,1476.3 C1053.4,1474.7 1053.9,1474.1 1055.2,1471.9 C1056.5,1469.7 1058.3,1466 1059.6,1463.1 C1060.9,1460.1 1061.5,1456.8 1062.9,1454.3 C1064.4,1451.7 1066.2,1449.5 1068.4,1447.6 C1070.6,1445.8 1073.4,1444.3 1076.2,1443.2 C1078.9,1442.1 1082,1441.4 1085,1441 C1087.9,1440.7 1091,1440.5 1093.8,1441 C1096.6,1441.6 1099.3,1442.9 1101.5,1444.3 C1103.7,1445.8 1105.8,1447.8 1107,1449.8 C1108.2,1451.9 1108.3,1454.8 1108.7,1456.5 C1109.1,1458.1 1108.4,1458.1 1109.2,1459.8 C1110.1,1461.4 1112,1463.3 1113.6,1466.4 C1115.3,1469.5 1117.7,1474.3 1119.2,1478.5 C1120.6,1482.7 1121.8,1488.1 1122.5,1491.7 C1123.1,1495.4 1123.4,1497.6 1123,1500.6 C1122.7,1503.5 1120.8,1506.5 1120.3,1509.4 C1119.7,1512.3 1120.4,1515.3 1119.7,1518.2 C1119,1521.2 1117,1524.5 1115.9,1527 C1114.7,1529.6 1113.1,1532.5 1112.5,1533.6" stroke-width="1.3" fill="none"/>
<path d="M1100.4,1538.6 C1101.9,1538.4 1106.7,1538.5 1109.2,1537.5 C1111.8,1536.5 1113.1,1533.7 1115.9,1532.5 C1118.6,1531.4 1123.8,1530.2 1125.8,1530.3 C1127.8,1530.5 1127.8,1531.6 1128,1533.6 C1128.2,1535.7 1127.8,1539.7 1126.9,1542.5 C1126,1545.2 1124,1547.8 1122.5,1550.2 C1120.9,1552.6 1121,1555.6 1117.5,1556.8 C1114,1558.1 1105.7,1558.2 1101.5,1557.7 C1097.4,1557.1 1095.1,1554.6 1092.7,1553.5 C1090.3,1552.4 1088.1,1551.7 1087.2,1551.3" stroke-width="1.3" fill="none"/>
<polyline points="1077.3,1473 1089.4,1462 1105.9,1462 1112.5,1467.5 1120.3,1494" stroke-width="1"/>
<polyline points="1090.5,1467.5 1103.7,1476.3 1112.5,1495.1" stroke-width="1"/>
<polyline points="1078.4,1466.4 1081.7,1456.5 1089.4,1446.5" stroke-width="0.9"/>
<path d="M1094.4,1459.2 C1094.4,1458.5 1094.3,1455.8 1094.9,1454.8 C1095.5,1453.8 1097,1453.2 1098.2,1453.2 C1099.4,1453.1 1101.2,1453.3 1102.1,1454.3 C1103,1455.2 1103.5,1458.1 1103.7,1458.9" stroke-width="1" fill="none"/>
<ellipse cx="1102.8" cy="1469.9" rx="2.2" ry="3.5" transform="rotate(10 1102.8 1469.9)" stroke-width="1" fill="none"/>
<path d="M1028.7,1507.2 C1027.8,1499.7 1029.7,1498.7 1032.1,1495.6 C1034.4,1492.5 1038.9,1491.7 1043.1,1488.4 C1047.3,1485.2 1051.9,1477 1057.4,1476.3 C1062.9,1475.6 1070.8,1480 1076.2,1484 C1081.5,1488.1 1085.9,1493.6 1089.4,1500.6 C1092.9,1507.6 1096.4,1518.8 1097.1,1525.9 C1097.8,1533.1 1097.3,1539 1093.8,1543.6 C1090.3,1548.2 1081.7,1551.5 1076.2,1553.5 C1070.6,1555.5 1065.5,1556.4 1060.7,1555.7 C1055.9,1555 1051.3,1551.7 1047.5,1549.1 C1043.6,1546.5 1040.7,1547.2 1037.6,1540.3 C1034.4,1533.3 1029.7,1514.6 1028.7,1507.2Z" stroke-width="1.2" fill="#fff"/>
<polygon points="1043.1,1489.5 1051.9,1483.7 1073.4,1487.9 1093.8,1525.9 1091,1541.4 1078.4,1550.7 1059.6,1546.9 1040.9,1529.2" stroke-width="0" fill="#fff"/>
<polyline points="1043.1,1489.5 1051.9,1483.7 1073.4,1487.9 1076.2,1490.1 1093.8,1525.9 1091,1541.4 1078.4,1550.7" stroke-width="1.2"/>
<polyline points="1051.9,1483.7 1061.8,1495.1 1076.2,1490.1" stroke-width="1"/>
<polyline points="1061.8,1495.1 1078.4,1531.4 1093.8,1525.9" stroke-width="1"/>
<polyline points="1078.4,1531.4 1080.6,1548.5" stroke-width="1"/>
<polyline points="1043.1,1489.5 1040.9,1491.7" stroke-width="1"/>
<polygon points="1024.3,1519.3 1046.4,1506.1 1065.1,1518.2 1065.1,1535.9 1045.3,1551.3" stroke-width="0" fill="#fff"/>
<polyline points="1025.4,1518.2 1046.4,1506.3" stroke-width="1.2"/>
<polyline points="1045.3,1550.7 1065.1,1536.7" stroke-width="1.2"/>
<path d="M1036.5,1512.1 Q1053,1529.2 1046.4,1548.5" stroke-width="0.9"/>
<path d="M1039.6,1511.5 Q1056.1,1528.7 1049.5,1547" stroke-width="0.9"/>
<path d="M1042.6,1510.8 Q1059.2,1528.1 1052.6,1545.4" stroke-width="0.9"/>
<path d="M1045.7,1510.2 Q1062.3,1527.6 1055.7,1543.9" stroke-width="0.9"/>
<path d="M1048.8,1509.5 Q1065.4,1527 1058.7,1542.4" stroke-width="0.9"/>
<path d="M1051.9,1508.8 Q1068.4,1526.5 1061.8,1540.8" stroke-width="0.9"/>
<path d="M1055,1508.2 Q1071.5,1525.9 1064.9,1539.3" stroke-width="0.9"/>
<path d="M1058.1,1507.5 Q1074.6,1525.4 1068,1537.7" stroke-width="0.9"/>
<path d="M1061.2,1506.9 Q1077.7,1524.8 1071.1,1536.2" stroke-width="0.9"/>
<ellipse cx="1032.8" cy="1535.6" rx="13.4" ry="17.2" transform="rotate(8 1032.8 1535.6)" stroke-width="1.3" fill="#fff"/>
<ellipse cx="1033.2" cy="1535.4" rx="11" ry="15" transform="rotate(8 1033.2 1535.4)" stroke-width="0.9" fill="none"/>
<polyline points="1010,1546.9 1039.8,1531.4" stroke-width="1"/>
<polyline points="1080,1440 1080,1481.5 1104,1469.5" stroke-width="1.2"/>
<g fill="none" stroke="#000">
<polygon points="167.7,360.9 143.7,349.7 140.4,357 164.3,368.1" stroke-width="0" fill="#fff"/>
<path d="M167.7,360.9 L143.7,349.7 M164.3,368.1 L140.4,357 " stroke-width="1.1" fill="none"/>
<ellipse cx="166" cy="364.5" rx="1.7" ry="4" transform="rotate(12.5 166 364.5)" stroke-width="1.1" fill="#fff"/>
<path d="M166,360.1 Q167.3,365.1 162.6,367.3 M164.2,359.3 Q165.6,364.3 160.9,366.5 M162.5,358.5 Q163.9,363.5 159.1,365.7 M160.8,357.7 Q162.2,362.7 157.4,364.9 M159.1,356.9 Q160.4,361.9 155.7,364.1 M157.3,356.1 Q158.7,361.1 154,363.3 M155.6,355.3 Q157,360.3 152.3,362.5 M153.9,354.5 Q155.3,359.5 150.5,361.7 M152.2,353.7 Q153.5,358.7 148.8,360.9 M150.5,352.9 Q151.8,357.9 147.1,360.1 M148.7,352.1 Q150.1,357.1 145.4,359.3 M147,351.3 Q148.4,356.3 143.6,358.5 M145.3,350.5 Q146.6,355.5 141.9,357.7 " stroke-width="0.9" fill="none"/>
<polygon points="145.1,346.8 137.9,343.4 131.7,356.6 139,360" stroke-width="1.1" fill="#fff"/>
<ellipse cx="142.1" cy="353.4" rx="3.1" ry="7.3" transform="rotate(12.5 142.1 353.4)" stroke-width="1.1" fill="#fff"/>
<polygon points="144.9,347.2 137.7,343.8 131.9,356.2 139.2,359.5" stroke-width="0" fill="#fff"/>
<path d="M145.1,346.8 L137.9,343.4 M139,360 L131.7,356.6 " stroke-width="1.1" fill="none"/>
<ellipse cx="134.8" cy="350" rx="3.1" ry="7.3" transform="rotate(12.5 134.8 350)" stroke-width="1.1" fill="#fff"/>
<polygon points="649.1,246.2 674.8,229.5 670.7,223.2 644.9,239.8" stroke-width="0" fill="#fff"/>
<path d="M649.1,246.2 L674.8,229.5 M644.9,239.8 L670.7,223.2 " stroke-width="1.1" fill="none"/>
<ellipse cx="647" cy="243" rx="1.6" ry="3.8" transform="rotate(-16.4 647 243)" stroke-width="1.1" fill="#fff"/>
<path d="M650.7,245.2 Q645.9,243.7 646.5,238.8 M652.3,244.1 Q647.5,242.7 648.1,237.7 M653.8,243.1 Q649.1,241.6 649.7,236.7 M655.4,242.1 Q650.7,240.6 651.3,235.7 M657,241 Q652.3,239.6 652.9,234.7 M658.6,240 Q653.9,238.5 654.5,233.6 M660.2,239 Q655.5,237.5 656.1,232.6 M661.8,237.9 Q657.1,236.5 657.7,231.6 M663.4,236.9 Q658.7,235.5 659.3,230.5 M665,235.9 Q660.3,234.4 660.9,229.5 M666.6,234.8 Q661.9,233.4 662.5,228.5 M668.2,233.8 Q663.5,232.4 664.1,227.4 M669.8,232.8 Q665.1,231.3 665.7,226.4 M671.4,231.8 Q666.7,230.3 667.3,225.4 M673,230.7 Q668.3,229.3 668.9,224.3 M674.6,229.7 Q669.9,228.2 670.5,223.3 " stroke-width="0.9" fill="none"/>
<polygon points="676.6,232.2 683.3,227.9 675.7,216.1 669,220.5" stroke-width="1.1" fill="#fff"/>
<ellipse cx="672.8" cy="226.3" rx="2.9" ry="7" transform="rotate(-16.4 672.8 226.3)" stroke-width="1.1" fill="#fff"/>
<polygon points="676.3,231.8 683,227.5 676,216.5 669.3,220.9" stroke-width="0" fill="#fff"/>
<path d="M676.6,232.2 L683.3,227.9 M669,220.5 L675.7,216.1 " stroke-width="1.1" fill="none"/>
<ellipse cx="679.5" cy="222" rx="2.9" ry="7" transform="rotate(-16.4 679.5 222)" stroke-width="1.1" fill="#fff"/>
<polygon points="906.4,483.7 931.9,467.1 927.7,460.7 902.2,477.3" stroke-width="0" fill="#fff"/>
<path d="M906.4,483.7 L931.9,467.1 M902.2,477.3 L927.7,460.7 " stroke-width="1.1" fill="none"/>
<ellipse cx="904.3" cy="480.5" rx="1.6" ry="3.8" transform="rotate(-16.6 904.3 480.5)" stroke-width="1.1" fill="#fff"/>
<path d="M908,482.6 Q903.2,481.2 903.8,476.3 M909.6,481.6 Q904.8,480.2 905.4,475.2 M911.2,480.6 Q906.4,479.1 907,474.2 M912.7,479.5 Q908,478.1 908.6,473.2 M914.3,478.5 Q909.6,477.1 910.2,472.1 M915.9,477.5 Q911.2,476 911.8,471.1 M917.5,476.4 Q912.8,475 913.4,470.1 M919.1,475.4 Q914.4,473.9 915,469 M920.7,474.3 Q915.9,472.9 916.5,468 M922.3,473.3 Q917.5,471.9 918.1,466.9 M923.9,472.3 Q919.1,470.8 919.7,465.9 M925.5,471.2 Q920.7,469.8 921.3,464.9 M927.1,470.2 Q922.3,468.8 922.9,463.8 M928.7,469.2 Q923.9,467.7 924.5,462.8 M930.2,468.1 Q925.5,466.7 926.1,461.7 M931.8,467.1 Q927.1,465.6 927.7,460.7 " stroke-width="0.9" fill="none"/>
<polygon points="933.6,469.7 940.3,465.4 932.7,453.6 926,458" stroke-width="1.1" fill="#fff"/>
<ellipse cx="929.8" cy="463.9" rx="2.9" ry="7" transform="rotate(-16.6 929.8 463.9)" stroke-width="1.1" fill="#fff"/>
<polygon points="933.3,469.3 940.1,464.9 932.9,454.1 926.2,458.4" stroke-width="0" fill="#fff"/>
<path d="M933.6,469.7 L940.3,465.4 M926,458 L932.7,453.6 " stroke-width="1.1" fill="none"/>
<ellipse cx="936.5" cy="459.5" rx="2.9" ry="7" transform="rotate(-16.6 936.5 459.5)" stroke-width="1.1" fill="#fff"/>
<polygon points="522.3,726.7 583.4,758.4 589.1,747.4 528.1,715.7" stroke-width="0" fill="#fff"/>
<path d="M522.3,726.7 L583.4,758.4 M528.1,715.7 L589.1,747.4 " stroke-width="1.1" fill="none"/>
<ellipse cx="525.2" cy="721.2" rx="2.6" ry="6.2" transform="rotate(13.7 525.2 721.2)" stroke-width="1.1" fill="#fff"/>
<path d="M525.5,728.4 Q523.8,720.5 531.3,717.4 M528.7,730 Q527,722.1 534.4,719 M531.9,731.7 Q530.2,723.8 537.6,720.7 M535.1,733.3 Q533.4,725.4 540.8,722.3 M538.3,735 Q536.6,727.1 544,724 M541.5,736.7 Q539.7,728.8 547.2,725.7 M544.7,738.3 Q542.9,730.4 550.4,727.3 M547.9,740 Q546.1,732.1 553.6,729 " stroke-width="0.9" fill="none"/>
<ellipse cx="586.2" cy="752.9" rx="6.5" ry="15.5" transform="rotate(13.7 586.2 752.9)" stroke-width="1.1" fill="#fff"/>
<ellipse cx="587.6" cy="753.6" rx="6.5" ry="15.5" transform="rotate(13.7 587.6 753.6)" stroke-width="1.1" fill="#fff"/>
<polygon points="581.6,765.2 590,769.5 602,746.5 593.6,742.1" stroke-width="1.1" fill="#fff"/>
<ellipse cx="596" cy="758" rx="5.5" ry="13" transform="rotate(13.7 596 758)" stroke-width="1.1" fill="#fff"/>
<path d="M584.6,759.4 L593,763.8 M590.6,747.9 L599,752.2 " stroke-width="0.9" fill="none"/>
<polygon points="600.6,760.4 593.4,768.7 588.8,766.3 591.4,755.6 598.6,747.3 603.2,749.7" stroke-width="0.9" fill="none"/>
<polygon points="505.9,1095 480.2,1081.3 476.4,1088.4 502.1,1102" stroke-width="0" fill="#fff"/>
<path d="M505.9,1095 L480.2,1081.3 M502.1,1102 L476.4,1088.4 " stroke-width="1.1" fill="none"/>
<ellipse cx="504" cy="1098.5" rx="1.7" ry="4" transform="rotate(14 504 1098.5)" stroke-width="1.1" fill="#fff"/>
<path d="M503.7,1093.8 Q504.8,1098.9 499.9,1100.9 M501.5,1092.6 Q502.6,1097.7 497.7,1099.7 M499.3,1091.4 Q500.3,1096.6 495.5,1098.5 M497.1,1090.3 Q498.1,1095.4 493.3,1097.3 M494.8,1089.1 Q495.9,1094.2 491.1,1096.2 M492.6,1087.9 Q493.7,1093 488.9,1095 M490.4,1086.7 Q491.5,1091.9 486.7,1093.8 M488.2,1085.6 Q489.3,1090.7 484.5,1092.6 M486,1084.4 Q487.1,1089.5 482.3,1091.5 " stroke-width="0.9" fill="none"/>
<ellipse cx="478.3" cy="1084.8" rx="4" ry="9.5" transform="rotate(14 478.3 1084.8)" stroke-width="1.1" fill="#fff"/>
<ellipse cx="477" cy="1084.1" rx="4" ry="9.5" transform="rotate(14 477 1084.1)" stroke-width="1.1" fill="#fff"/>
<polygon points="480.7,1077.1 476.8,1074.9 469.2,1089.1 473.2,1091.2" stroke-width="1.1" fill="#fff"/>
<ellipse cx="473" cy="1082" rx="3.4" ry="8" transform="rotate(14 473 1082)" stroke-width="1.1" fill="#fff"/>
<path d="M478.9,1080.6 L474.9,1078.5 M475.1,1087.6 L471.1,1085.5 " stroke-width="0.9" fill="none"/>
<polygon points="470.2,1080.5 474.7,1075.4 477.5,1076.9 475.8,1083.5 471.3,1088.6 468.5,1087.1" stroke-width="0.9" fill="none"/>
<polygon points="531.9,1155.5 506.2,1141.8 502.4,1148.9 528.1,1162.5" stroke-width="0" fill="#fff"/>
<path d="M531.9,1155.5 L506.2,1141.8 M528.1,1162.5 L502.4,1148.9 " stroke-width="1.1" fill="none"/>
<ellipse cx="530" cy="1159" rx="1.7" ry="4" transform="rotate(14 530 1159)" stroke-width="1.1" fill="#fff"/>
<path d="M529.7,1154.3 Q530.8,1159.4 525.9,1161.4 M527.5,1153.1 Q528.6,1158.2 523.7,1160.2 M525.3,1151.9 Q526.3,1157.1 521.5,1159 M523.1,1150.8 Q524.1,1155.9 519.3,1157.8 M520.8,1149.6 Q521.9,1154.7 517.1,1156.7 M518.6,1148.4 Q519.7,1153.5 514.9,1155.5 M516.4,1147.2 Q517.5,1152.4 512.7,1154.3 M514.2,1146.1 Q515.3,1151.2 510.5,1153.1 M512,1144.9 Q513.1,1150 508.3,1152 " stroke-width="0.9" fill="none"/>
<ellipse cx="504.3" cy="1145.3" rx="4" ry="9.5" transform="rotate(14 504.3 1145.3)" stroke-width="1.1" fill="#fff"/>
<ellipse cx="503" cy="1144.6" rx="4" ry="9.5" transform="rotate(14 503 1144.6)" stroke-width="1.1" fill="#fff"/>
<polygon points="506.7,1137.6 502.8,1135.4 495.2,1149.6 499.2,1151.7" stroke-width="1.1" fill="#fff"/>
<ellipse cx="499" cy="1142.5" rx="3.4" ry="8" transform="rotate(14 499 1142.5)" stroke-width="1.1" fill="#fff"/>
<path d="M504.9,1141.1 L500.9,1139 M501.1,1148.1 L497.1,1146 " stroke-width="0.9" fill="none"/>
<polygon points="496.2,1141 500.7,1135.9 503.5,1137.4 501.8,1144 497.3,1149.1 494.5,1147.6" stroke-width="0.9" fill="none"/>
<polygon points="271.6,1218.8 293.7,1229.8 297.5,1222.3 275.4,1211.2" stroke-width="0" fill="#fff"/>
<path d="M271.6,1218.8 L293.7,1229.8 M275.4,1211.2 L297.5,1222.3 " stroke-width="1.1" fill="none"/>
<ellipse cx="273.5" cy="1215" rx="2.1" ry="4.2" transform="rotate(13.3 273.5 1215)" stroke-width="1.1" fill="#fff"/>
<path d="M273.9,1219.9 Q272.1,1214.3 277.7,1212.4 M276.3,1221.1 Q274.4,1215.4 280,1213.6 M278.6,1222.2 Q276.7,1216.6 282.4,1214.7 M280.9,1223.4 Q279,1217.8 284.7,1215.9 M283.2,1224.6 Q281.4,1218.9 287,1217.1 M285.6,1225.7 Q283.7,1220.1 289.3,1218.2 M287.9,1226.9 Q286,1221.3 291.7,1219.4 M290.2,1228.1 Q288.3,1222.4 294,1220.5 " stroke-width="0.9" fill="none"/>
<polygon points="291.7,1233.7 296.7,1236.2 304.3,1220.8 299.4,1218.3" stroke-width="1.1" fill="#fff"/>
<ellipse cx="295.6" cy="1226" rx="4.3" ry="8.6" transform="rotate(13.3 295.6 1226)" stroke-width="1.1" fill="#fff"/>
<polygon points="292,1233.3 296.9,1235.7 304.1,1221.3 299.2,1218.8" stroke-width="0" fill="#fff"/>
<path d="M291.7,1233.7 L296.7,1236.2 M299.4,1218.3 L304.3,1220.8 " stroke-width="1.1" fill="none"/>
<ellipse cx="300.5" cy="1228.5" rx="4.3" ry="8.6" transform="rotate(13.3 300.5 1228.5)" stroke-width="1.1" fill="#fff"/>
<path d="M293.7,1229.9 L298.6,1232.3 M297.5,1222.2 L302.4,1224.7 " stroke-width="0.9" fill="none"/>
<polygon points="304.2,1230.3 299.2,1235.7 295.5,1233.9 296.8,1226.7 301.8,1221.3 305.5,1223.1" stroke-width="0.9" fill="none"/>
<polygon points="232.6,1331.8 254.7,1342.8 258.5,1335.3 236.4,1324.2" stroke-width="0" fill="#fff"/>
<path d="M232.6,1331.8 L254.7,1342.8 M236.4,1324.2 L258.5,1335.3 " stroke-width="1.1" fill="none"/>
<ellipse cx="234.5" cy="1328" rx="2.1" ry="4.2" transform="rotate(13.3 234.5 1328)" stroke-width="1.1" fill="#fff"/>
<path d="M234.9,1332.9 Q233.1,1327.3 238.7,1325.4 M237.3,1334.1 Q235.4,1328.4 241,1326.6 M239.6,1335.2 Q237.7,1329.6 243.4,1327.7 M241.9,1336.4 Q240,1330.8 245.7,1328.9 M244.2,1337.6 Q242.4,1331.9 248,1330.1 M246.6,1338.7 Q244.7,1333.1 250.3,1331.2 M248.9,1339.9 Q247,1334.3 252.7,1332.4 M251.2,1341.1 Q249.3,1335.4 255,1333.5 " stroke-width="0.9" fill="none"/>
<polygon points="252.7,1346.7 257.7,1349.2 265.3,1333.8 260.4,1331.3" stroke-width="1.1" fill="#fff"/>
<ellipse cx="256.6" cy="1339" rx="4.3" ry="8.6" transform="rotate(13.3 256.6 1339)" stroke-width="1.1" fill="#fff"/>
<polygon points="253,1346.3 257.9,1348.7 265.1,1334.3 260.2,1331.8" stroke-width="0" fill="#fff"/>
<path d="M252.7,1346.7 L257.7,1349.2 M260.4,1331.3 L265.3,1333.8 " stroke-width="1.1" fill="none"/>
<ellipse cx="261.5" cy="1341.5" rx="4.3" ry="8.6" transform="rotate(13.3 261.5 1341.5)" stroke-width="1.1" fill="#fff"/>
<path d="M254.7,1342.9 L259.6,1345.3 M258.5,1335.2 L263.4,1337.7 " stroke-width="0.9" fill="none"/>
<polygon points="265.2,1343.3 260.2,1348.7 256.5,1346.9 257.8,1339.7 262.8,1334.3 266.5,1336.1" stroke-width="0.9" fill="none"/>
<polygon points="88,1498.3 61.3,1512.5 65.3,1519.9 92,1505.7" stroke-width="0" fill="#fff"/>
<path d="M88,1498.3 L61.3,1512.5 M92,1505.7 L65.3,1519.9 " stroke-width="1.1" fill="none"/>
<ellipse cx="90" cy="1502" rx="1.8" ry="4.2" transform="rotate(-14 90 1502)" stroke-width="1.1" fill="#fff"/>
<path d="M85.8,1499.5 Q90.9,1501.5 89.8,1506.9 M83.6,1500.6 Q88.7,1502.7 87.6,1508.1 M81.4,1501.8 Q86.5,1503.9 85.3,1509.2 M79.2,1503 Q84.3,1505 83.1,1510.4 M77,1504.2 Q82.1,1506.2 80.9,1511.6 M74.8,1505.3 Q79.9,1507.4 78.7,1512.7 M72.6,1506.5 Q77.7,1508.6 76.5,1513.9 M70.4,1507.7 Q75.5,1509.7 74.3,1515.1 M68.2,1508.8 Q73.2,1510.9 72.1,1516.3 " stroke-width="0.9" fill="none"/>
<ellipse cx="63.3" cy="1516.2" rx="4" ry="9.5" transform="rotate(-14 63.3 1516.2)" stroke-width="1.1" fill="#fff"/>
<ellipse cx="62" cy="1516.9" rx="4" ry="9.5" transform="rotate(-14 62 1516.9)" stroke-width="1.1" fill="#fff"/>
<polygon points="58.1,1509.6 54.2,1511.8 61.8,1526.2 65.8,1524.1" stroke-width="1.1" fill="#fff"/>
<ellipse cx="58" cy="1519" rx="3.4" ry="8.2" transform="rotate(-14 58 1519)" stroke-width="1.1" fill="#fff"/>
<path d="M60.1,1513.3 L56.1,1515.4 M63.9,1520.5 L59.9,1522.6 " stroke-width="0.9" fill="none"/>
<polygon points="55.1,1520.5 53.4,1513.8 56.3,1512.3 60.9,1517.5 62.6,1524.2 59.7,1525.7" stroke-width="0.9" fill="none"/>
<polygon points="147.1,1329.4 150,1296.4 141.2,1295.6 138.3,1328.6" stroke-width="0" fill="#fff"/>
<path d="M147.1,1329.4 L150,1296.4 M138.3,1328.6 L141.2,1295.6 " stroke-width="1.1" fill="none"/>
<ellipse cx="142.7" cy="1329" rx="1.8" ry="4.4" transform="rotate(-85 142.7 1329)" stroke-width="1.1" fill="#fff"/>
<path d="M147.3,1327.2 Q142.6,1330.5 138.5,1326.4 M147.5,1325 Q142.8,1328.3 138.7,1324.2 M147.7,1322.8 Q143,1326.1 138.9,1322 M147.9,1320.6 Q143.1,1323.9 139.1,1319.8 M148,1318.4 Q143.3,1321.7 139.3,1317.7 M148.2,1316.2 Q143.5,1319.5 139.5,1315.5 " stroke-width="0.9" fill="none"/>
<ellipse cx="145.6" cy="1296" rx="4.4" ry="10.5" transform="rotate(-85 145.6 1296)" stroke-width="1.1" fill="#fff"/>
<ellipse cx="145.7" cy="1294.5" rx="4.4" ry="10.5" transform="rotate(-85 145.7 1294.5)" stroke-width="1.1" fill="#fff"/>
<polygon points="154.2,1295.2 154.8,1288.7 137.8,1287.3 137.3,1293.7" stroke-width="1.1" fill="#fff"/>
<ellipse cx="146.3" cy="1288" rx="3.6" ry="8.5" transform="rotate(-85 146.3 1288)" stroke-width="1.1" fill="#fff"/>
<path d="M150,1294.8 L150.5,1288.4 M141.5,1294.1 L142.1,1287.6 " stroke-width="0.9" fill="none"/>
<polygon points="146.6,1284.6 153.4,1286.9 153.1,1290.3 146,1291.4 139.2,1289.1 139.5,1285.7" stroke-width="0.9" fill="none"/>
<polygon points="482.7,1433.5 486.6,1399.4 478.2,1398.5 474.3,1432.5" stroke-width="0" fill="#fff"/>
<path d="M482.7,1433.5 L486.6,1399.4 M474.3,1432.5 L478.2,1398.5 " stroke-width="1.1" fill="none"/>
<ellipse cx="478.5" cy="1433" rx="1.8" ry="4.2" transform="rotate(-83.5 478.5 1433)" stroke-width="1.1" fill="#fff"/>
<path d="M482.9,1431.3 Q478.3,1434.3 474.6,1430.3 M483.2,1429.1 Q478.6,1432.1 474.8,1428.2 M483.4,1426.9 Q478.8,1429.9 475.1,1426 M483.7,1424.7 Q479.1,1427.8 475.3,1423.8 M483.9,1422.5 Q479.3,1425.6 475.6,1421.6 M484.2,1420.4 Q479.6,1423.4 475.8,1419.4 M484.4,1418.2 Q479.8,1421.2 476.1,1417.2 " stroke-width="0.9" fill="none"/>
<ellipse cx="482.4" cy="1398.9" rx="4.2" ry="10" transform="rotate(-83.5 482.4 1398.9)" stroke-width="1.1" fill="#fff"/>
<ellipse cx="482.6" cy="1397.5" rx="4.2" ry="10" transform="rotate(-83.5 482.6 1397.5)" stroke-width="1.1" fill="#fff"/>
<polygon points="490.7,1398.4 491.4,1391.9 475.2,1390.1 474.4,1396.5" stroke-width="1.1" fill="#fff"/>
<ellipse cx="483.3" cy="1391" rx="3.4" ry="8.2" transform="rotate(-83.5 483.3 1391)" stroke-width="1.1" fill="#fff"/>
<path d="M486.6,1397.9 L487.4,1391.5 M478.5,1397 L479.2,1390.5 " stroke-width="0.9" fill="none"/>
<polygon points="483.7,1387.7 490.2,1390.1 489.8,1393.4 482.9,1394.3 476.4,1391.9 476.8,1388.6" stroke-width="0.9" fill="none"/>
<polygon points="403.4,1593.9 378,1608.8 382.3,1616.1 407.6,1601.1" stroke-width="0" fill="#fff"/>
<path d="M403.4,1593.9 L378,1608.8 M407.6,1601.1 L382.3,1616.1 " stroke-width="1.1" fill="none"/>
<ellipse cx="405.5" cy="1597.5" rx="1.8" ry="4.2" transform="rotate(-15.3 405.5 1597.5)" stroke-width="1.1" fill="#fff"/>
<path d="M401.2,1595.2 Q406.4,1597 405.5,1602.4 M399.1,1596.4 Q404.2,1598.2 403.3,1603.7 M396.9,1597.7 Q402.1,1599.5 401.2,1604.9 M394.8,1599 Q399.9,1600.8 399,1606.2 M392.6,1600.2 Q397.8,1602.1 396.9,1607.5 M390.4,1601.5 Q395.6,1603.3 394.7,1608.7 M388.3,1602.8 Q393.5,1604.6 392.6,1610 M386.1,1604 Q391.3,1605.9 390.4,1611.3 M384,1605.3 Q389.2,1607.1 388.3,1612.6 " stroke-width="0.9" fill="none"/>
<ellipse cx="380.2" cy="1612.5" rx="4" ry="9.5" transform="rotate(-15.3 380.2 1612.5)" stroke-width="1.1" fill="#fff"/>
<ellipse cx="378.9" cy="1613.2" rx="4" ry="9.5" transform="rotate(-15.3 378.9 1613.2)" stroke-width="1.1" fill="#fff"/>
<polygon points="374.7,1606.2 370.8,1608.4 379.2,1622.6 383,1620.3" stroke-width="1.1" fill="#fff"/>
<ellipse cx="375" cy="1615.5" rx="3.4" ry="8.2" transform="rotate(-15.3 375 1615.5)" stroke-width="1.1" fill="#fff"/>
<path d="M376.8,1609.7 L372.9,1612 M381,1616.7 L377.1,1619 " stroke-width="0.9" fill="none"/>
<polygon points="372.2,1617.2 370.2,1610.5 373,1608.9 377.8,1613.8 379.8,1620.5 377,1622.1" stroke-width="0.9" fill="none"/>
</g>
<ellipse cx="138.2" cy="1348.4" rx="11.6" ry="5.4" transform="rotate(-8 138.2 1348.4)" stroke-width="1.2" fill="#fff"/>
<ellipse cx="138.2" cy="1348.4" rx="5.5" ry="2.6" transform="rotate(-8 138.2 1348.4)" stroke-width="1" fill="none"/>
<ellipse cx="476.5" cy="1452.7" rx="12" ry="6.5" transform="rotate(-8 476.5 1452.7)" stroke-width="1.2" fill="#fff"/>
<ellipse cx="476.5" cy="1452.7" rx="5" ry="2.8" transform="rotate(-8 476.5 1452.7)" stroke-width="1" fill="none"/>
<polygon points="239.2,1402.5 243.2,1400.2 252.1,1402.3 258.9,1407.4 259.6,1426 254.3,1428.4 238.4,1419.7" stroke-width="1.2" fill="#fff"/>
<polyline points="239.2,1402.5 254.3,1409.5 258.9,1407.4" stroke-width="1"/>
<polyline points="254.3,1409.5 254.3,1428.4" stroke-width="1"/>
<ellipse cx="247.1" cy="1415.4" rx="3.2" ry="4.8" transform="rotate(0 247.1 1415.4)" stroke-width="1" fill="none"/>
<ellipse cx="247.6" cy="1416.1" rx="2.2" ry="3.4" transform="rotate(0 247.6 1416.1)" stroke-width="0.8" fill="none"/>
<polygon points="482.4,1538.8 486.4,1536.5 495.3,1538.6 502.1,1543.7 502.8,1562.3 497.5,1564.7 481.6,1556" stroke-width="1.2" fill="#fff"/>
<polyline points="482.4,1538.8 497.5,1545.8 502.1,1543.7" stroke-width="1"/>
<polyline points="497.5,1545.8 497.5,1564.7" stroke-width="1"/>
<ellipse cx="490.3" cy="1551.7" rx="3.2" ry="4.8" transform="rotate(0 490.3 1551.7)" stroke-width="1" fill="none"/>
<ellipse cx="490.8" cy="1552.4" rx="2.2" ry="3.4" transform="rotate(0 490.8 1552.4)" stroke-width="0.8" fill="none"/>
</g>
<g font-family="Liberation Sans, sans-serif" font-weight="bold" fill="#000" style="will-change:transform">
<g transform="translate(150.7 281) scale(1 1.1)">
<text x="0" y="0" font-size="22.5">4</text>
</g>
<g transform="translate(94 445.2) scale(1 1.1)">
<text x="0" y="0" font-size="22.5">9</text>
</g>
<g transform="translate(477.2 318) scale(1 1.1)">
<text x="0" y="0" font-size="22.5">6</text>
</g>
<g transform="translate(560.1 258.5) scale(1 1.1)">
<text x="0" y="0" font-size="22.5">5</text>
</g>
<g transform="translate(666.4 145) scale(1 1.1)">
<text x="0" y="0" font-size="22.5">4</text>
</g>
<g transform="translate(855.9 101.2) scale(1 1.1)">
<text x="0" y="0" font-size="22.5">3</text>
</g>
<g transform="translate(952.9 50.1) scale(1 1.1)">
<text x="0" y="0" font-size="22.5">2</text>
</g>
<g transform="translate(1009.7 51.3) scale(1 1.1)">
<polygon points="8.9,0 8.9,-15.6 6.9,-15.6 6.1,-14.4 4.5,-13 1.7,-11.5 1.7,-8.8 3.6,-9.6 5.9,-10.9 5.9,0"/>
</g>
<g transform="translate(910.7 393.3) scale(1 1.1)">
<text x="0" y="0" font-size="22.5">4</text>
</g>
<g transform="translate(978.4 372.1) scale(1 1.1)">
<text x="0" y="0" font-size="22.5">8</text>
</g>
<g transform="translate(1030.5 351) scale(1 1.1)">
<text x="0" y="0" font-size="22.5">7</text>
</g>
<g transform="translate(553.9 659.9) scale(1 1.1)">
<polygon points="8.9,0 8.9,-15.6 6.9,-15.6 6.1,-14.4 4.5,-13 1.7,-11.5 1.7,-8.8 3.6,-9.6 5.9,-10.9 5.9,0"/>
<text x="12.5" y="0" font-size="22.5">0</text>
</g>
<g transform="translate(135 882.6) scale(1 1.1)">
<polygon points="8.9,0 8.9,-15.6 6.9,-15.6 6.1,-14.4 4.5,-13 1.7,-11.5 1.7,-8.8 3.6,-9.6 5.9,-10.9 5.9,0"/>
<polygon points="21.4,0 21.4,-15.6 19.4,-15.6 18.6,-14.4 17,-13 14.2,-11.5 14.2,-8.8 16.1,-9.6 18.4,-10.9 18.4,0"/>
</g>
<g transform="translate(373.2 1094) scale(1 1.1)">
<polygon points="8.9,0 8.9,-15.6 6.9,-15.6 6.1,-14.4 4.5,-13 1.7,-11.5 1.7,-8.8 3.6,-9.6 5.9,-10.9 5.9,0"/>
<text x="12.5" y="0" font-size="22.5">2</text>
</g>
<g transform="translate(239.5 1118.5) scale(1 1.1)">
<polygon points="8.9,0 8.9,-15.6 6.9,-15.6 6.1,-14.4 4.5,-13 1.7,-11.5 1.7,-8.8 3.6,-9.6 5.9,-10.9 5.9,0"/>
<text x="12.5" y="0" font-size="22.5">3</text>
</g>
<g transform="translate(375 1232.1) scale(1 1.1)">
<polygon points="8.9,0 8.9,-15.6 6.9,-15.6 6.1,-14.4 4.5,-13 1.7,-11.5 1.7,-8.8 3.6,-9.6 5.9,-10.9 5.9,0"/>
<text x="12.5" y="0" font-size="22.5">4</text>
</g>
<g transform="translate(297.4 1353.9) scale(1 1.1)">
<polygon points="8.9,0 8.9,-15.6 6.9,-15.6 6.1,-14.4 4.5,-13 1.7,-11.5 1.7,-8.8 3.6,-9.6 5.9,-10.9 5.9,0"/>
<text x="12.5" y="0" font-size="22.5">5</text>
</g>
<g transform="translate(66.1 1431.4) scale(1 1.1)">
<polygon points="8.9,0 8.9,-15.6 6.9,-15.6 6.1,-14.4 4.5,-13 1.7,-11.5 1.7,-8.8 3.6,-9.6 5.9,-10.9 5.9,0"/>
<text x="12.5" y="0" font-size="22.5">6</text>
</g>
<g transform="translate(457.5 1322.2) scale(1 1.1)">
<polygon points="8.9,0 8.9,-15.6 6.9,-15.6 6.1,-14.4 4.5,-13 1.7,-11.5 1.7,-8.8 3.6,-9.6 5.9,-10.9 5.9,0"/>
<text x="12.5" y="0" font-size="22.5">7</text>
</g>
<g transform="translate(383.1 1416.5) scale(1 1.1)">
<polygon points="8.9,0 8.9,-15.6 6.9,-15.6 6.1,-14.4 4.5,-13 1.7,-11.5 1.7,-8.8 3.6,-9.6 5.9,-10.9 5.9,0"/>
<text x="12.5" y="0" font-size="22.5">8</text>
</g>
<g transform="translate(369.8 1460) scale(1 1.1)">
<polygon points="8.9,0 8.9,-15.6 6.9,-15.6 6.1,-14.4 4.5,-13 1.7,-11.5 1.7,-8.8 3.6,-9.6 5.9,-10.9 5.9,0"/>
<text x="12.5" y="0" font-size="22.5">9</text>
</g>
<g transform="translate(253.7 1586.9) scale(1 1.1)">
<text x="0" y="0" font-size="22.5">2</text>
<text x="12.5" y="0" font-size="22.5">0</text>
</g>
<g transform="translate(276 1628.8) scale(1 1.1)">
<text x="0" y="0" font-size="22.5">2</text>
<polygon points="21.4,0 21.4,-15.6 19.4,-15.6 18.6,-14.4 17,-13 14.2,-11.5 14.2,-8.8 16.1,-9.6 18.4,-10.9 18.4,0"/>
</g>
<g transform="translate(550.2 1684.7) scale(1 1.1)">
<text x="0" y="0" font-size="22.5">2</text>
<text x="12.5" y="0" font-size="22.5">2</text>
</g>
<g transform="translate(519.9 1735.5) scale(1 1.1)">
<text x="0" y="0" font-size="22.5">2</text>
<text x="12.5" y="0" font-size="22.5">3</text>
</g>
<g transform="translate(767.9 1500.5) scale(1 1.1)">
<text x="0" y="0" font-size="22.5">2</text>
<text x="12.5" y="0" font-size="22.5">4</text>
</g>
<g transform="translate(1029.4 1329.3) scale(1 1.1)">
<text x="0" y="0" font-size="22.5">2</text>
<text x="12.5" y="0" font-size="22.5">5</text>
</g>
<g transform="translate(1087.5 1647) scale(1 1.1)">
<text x="0" y="0" font-size="22.5">2</text>
<text x="12.5" y="0" font-size="22.5">6</text>
</g>
<g transform="translate(933.3 1748.2) scale(1 1.1)">
<text x="0" y="0" font-size="22.5">2</text>
<text x="12.5" y="0" font-size="22.5">7</text>
</g>
<text x="34.2" y="74" font-size="57" font-weight="bold" transform="translate(34.2 74) scale(0.99 1) translate(-34.2 -74)">D</text>
<text x="92.8" y="46.8" font-size="20" font-weight="bold">K30/K40</text>
</g>
<text x="1019.5" y="1785.5" font-family="Liberation Serif, serif" font-size="38" fill="#4a68b4" stroke="#4a68b4" stroke-width="0.6">m</text>
<text x="1050.5" y="1785.5" font-family="Liberation Serif, serif" font-size="38" fill="#3aa83a" stroke="#3aa83a" stroke-width="0.6">o</text>
<text x="1068.5" y="1785.5" font-family="Liberation Serif, serif" font-size="38" fill="#e45fa0" stroke="#e45fa0" stroke-width="0.6">t</text>
<text x="1081.5" y="1785.5" font-family="Liberation Serif, serif" font-size="38" fill="#3aa83a" stroke="#3aa83a" stroke-width="0.6">o</text>
<text x="1100.5" y="1785.5" font-family="Liberation Serif, serif" font-size="38" fill="#e8521e" stroke="#e8521e" stroke-width="0.6">r</text>
<text x="1114.5" y="1785.5" font-family="Liberation Serif, serif" font-size="38" fill="#f39a1c" stroke="#f39a1c" stroke-width="0.6">u</text>
<text x="1136" y="1785.5" font-family="Liberation Serif, serif" font-size="38" fill="#f2c318" stroke="#f2c318" stroke-width="0.6">f</text>
<text x="1148.5" y="1785" font-family="Liberation Serif, serif" font-size="16" fill="#333">.de</text>
<circle cx="1152.6" cy="1760" r="0.8" fill="#888"/>
</svg>
</body></html>
